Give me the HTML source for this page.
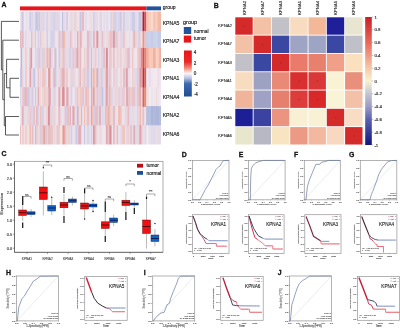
<!DOCTYPE html>
<html><head><meta charset="utf-8"><style>
html,body{margin:0;padding:0;background:#fff;}
body{width:400px;height:329px;overflow:hidden;}
svg{display:block;font-family:"Liberation Sans", sans-serif;will-change:transform;filter:blur(0.3px);}
</style></head><body>
<svg width="400" height="329" viewBox="0 0 400 329">
<rect x="0" y="0" width="400" height="329" fill="#fff"/>
<text x="1.50" y="7.30" font-size="6.9" text-anchor="start" font-weight="bold" fill="#111" stroke="#111" stroke-width="0.28">A</text>
<rect x="20.00" y="6.40" width="126.40" height="3.90" fill="#e8161c"/>
<rect x="146.40" y="6.40" width="14.60" height="3.90" fill="#22549e"/>
<text x="162.70" y="9.40" font-size="5.0" text-anchor="start" fill="#222" stroke="#222" stroke-width="0.150">group</text>
<defs><clipPath id="hmclip"><rect x="20.00" y="11.40" width="141.00" height="133.20"/></clipPath><filter id="hb" x="-0.02" y="0" width="1.04" height="1"><feGaussianBlur stdDeviation="0.3 0.2"/></filter></defs>
<g clip-path="url(#hmclip)"><g filter="url(#hb)">
<rect x="19.70" y="10.90" width="1.90" height="20.90" fill="#efe3e9"/>
<rect x="19.70" y="30.80" width="1.90" height="18.00" fill="#e5bac2"/>
<rect x="19.70" y="47.80" width="1.90" height="21.30" fill="#e3dceb"/>
<rect x="19.70" y="68.10" width="1.90" height="20.00" fill="#cbcae6"/>
<rect x="19.70" y="87.10" width="1.90" height="19.90" fill="#dcd7e9"/>
<rect x="19.70" y="106.00" width="1.90" height="20.20" fill="#efe5ed"/>
<rect x="19.70" y="125.20" width="1.90" height="19.90" fill="#e7c2ca"/>
<rect x="21.00" y="10.90" width="1.70" height="20.90" fill="#dbd6e9"/>
<rect x="21.00" y="30.80" width="1.70" height="18.00" fill="#d1cfe7"/>
<rect x="21.00" y="47.80" width="1.70" height="21.30" fill="#b4b8e0"/>
<rect x="21.00" y="68.10" width="1.70" height="20.00" fill="#c4c4e4"/>
<rect x="21.00" y="87.10" width="1.70" height="19.90" fill="#e8e1ec"/>
<rect x="21.00" y="106.00" width="1.70" height="20.20" fill="#efd7d7"/>
<rect x="21.00" y="125.20" width="1.70" height="19.90" fill="#efe4ec"/>
<rect x="22.10" y="10.90" width="2.10" height="20.90" fill="#c8c8e5"/>
<rect x="22.10" y="30.80" width="2.10" height="18.00" fill="#e4b6be"/>
<rect x="22.10" y="47.80" width="2.10" height="21.30" fill="#e6dfec"/>
<rect x="22.10" y="68.10" width="2.10" height="20.00" fill="#ebd5dd"/>
<rect x="22.10" y="87.10" width="2.10" height="19.90" fill="#e8c8d0"/>
<rect x="22.10" y="106.00" width="2.10" height="20.20" fill="#e2adb5"/>
<rect x="22.10" y="125.20" width="2.10" height="19.90" fill="#efccc7"/>
<rect x="23.60" y="10.90" width="2.50" height="20.90" fill="#efe6ee"/>
<rect x="23.60" y="30.80" width="2.50" height="18.00" fill="#ebe3ed"/>
<rect x="23.60" y="47.80" width="2.50" height="21.30" fill="#eee3eb"/>
<rect x="23.60" y="68.10" width="2.50" height="20.00" fill="#ebe3ed"/>
<rect x="23.60" y="87.10" width="2.50" height="19.90" fill="#e7c0c8"/>
<rect x="23.60" y="106.00" width="2.50" height="20.20" fill="#e4deeb"/>
<rect x="23.60" y="125.20" width="2.50" height="19.90" fill="#efdfe3"/>
<rect x="25.50" y="10.90" width="1.50" height="20.90" fill="#eee2ea"/>
<rect x="25.50" y="30.80" width="1.50" height="18.00" fill="#d3d0e7"/>
<rect x="25.50" y="47.80" width="1.50" height="21.30" fill="#f0bcae"/>
<rect x="25.50" y="68.10" width="1.50" height="20.00" fill="#f0baac"/>
<rect x="25.50" y="87.10" width="1.50" height="19.90" fill="#e2aab2"/>
<rect x="25.50" y="106.00" width="1.50" height="20.20" fill="#efdadc"/>
<rect x="25.50" y="125.20" width="1.50" height="19.90" fill="#f0c4bb"/>
<rect x="26.40" y="10.90" width="1.50" height="20.90" fill="#e4ddeb"/>
<rect x="26.40" y="30.80" width="1.50" height="18.00" fill="#ece4ed"/>
<rect x="26.40" y="47.80" width="1.50" height="21.30" fill="#eddee6"/>
<rect x="26.40" y="68.10" width="1.50" height="20.00" fill="#eddbe3"/>
<rect x="26.40" y="87.10" width="1.50" height="19.90" fill="#e8c9d1"/>
<rect x="26.40" y="106.00" width="1.50" height="20.20" fill="#e7dfec"/>
<rect x="26.40" y="125.20" width="1.50" height="19.90" fill="#efd7d7"/>
<rect x="27.30" y="10.90" width="2.80" height="20.90" fill="#ebe3ed"/>
<rect x="27.30" y="30.80" width="2.80" height="18.00" fill="#eee0e8"/>
<rect x="27.30" y="47.80" width="2.80" height="21.30" fill="#ebe3ed"/>
<rect x="27.30" y="68.10" width="2.80" height="20.00" fill="#efe3e9"/>
<rect x="27.30" y="87.10" width="2.80" height="19.90" fill="#cac9e5"/>
<rect x="27.30" y="106.00" width="2.80" height="20.20" fill="#ebd3db"/>
<rect x="27.30" y="125.20" width="2.80" height="19.90" fill="#efe0e5"/>
<rect x="29.50" y="10.90" width="2.30" height="20.90" fill="#cccbe6"/>
<rect x="29.50" y="30.80" width="2.30" height="18.00" fill="#eee3eb"/>
<rect x="29.50" y="47.80" width="2.30" height="21.30" fill="#e4b5bd"/>
<rect x="29.50" y="68.10" width="2.30" height="20.00" fill="#e0a4ac"/>
<rect x="29.50" y="87.10" width="2.30" height="19.90" fill="#ecd8e0"/>
<rect x="29.50" y="106.00" width="2.30" height="20.20" fill="#e9cad2"/>
<rect x="29.50" y="125.20" width="2.30" height="19.90" fill="#f0bcaf"/>
<rect x="31.20" y="10.90" width="1.50" height="20.90" fill="#e1dbeb"/>
<rect x="31.20" y="30.80" width="1.50" height="18.00" fill="#e4b6be"/>
<rect x="31.20" y="47.80" width="1.50" height="21.30" fill="#db8e96"/>
<rect x="31.20" y="68.10" width="1.50" height="20.00" fill="#ecd9e1"/>
<rect x="31.20" y="87.10" width="1.50" height="19.90" fill="#efcbc6"/>
<rect x="31.20" y="106.00" width="1.50" height="20.20" fill="#efcdc7"/>
<rect x="31.20" y="125.20" width="1.50" height="19.90" fill="#e2dceb"/>
<rect x="32.10" y="10.90" width="1.90" height="20.90" fill="#dcd7e9"/>
<rect x="32.10" y="30.80" width="1.90" height="18.00" fill="#ebd4dc"/>
<rect x="32.10" y="47.80" width="1.90" height="21.30" fill="#ebe3ed"/>
<rect x="32.10" y="68.10" width="1.90" height="20.00" fill="#e0daea"/>
<rect x="32.10" y="87.10" width="1.90" height="19.90" fill="#cfcde7"/>
<rect x="32.10" y="106.00" width="1.90" height="20.20" fill="#dbd6e9"/>
<rect x="32.10" y="125.20" width="1.90" height="19.90" fill="#e5bac2"/>
<rect x="33.40" y="10.90" width="2.30" height="20.90" fill="#e8e1ec"/>
<rect x="33.40" y="30.80" width="2.30" height="18.00" fill="#efdce0"/>
<rect x="33.40" y="47.80" width="2.30" height="21.30" fill="#eee5ee"/>
<rect x="33.40" y="68.10" width="2.30" height="20.00" fill="#c6c6e4"/>
<rect x="33.40" y="87.10" width="2.30" height="19.90" fill="#eee3eb"/>
<rect x="33.40" y="106.00" width="2.30" height="20.20" fill="#e6bfc7"/>
<rect x="33.40" y="125.20" width="2.30" height="19.90" fill="#eae2ed"/>
<rect x="35.10" y="10.90" width="1.50" height="20.90" fill="#cbcae5"/>
<rect x="35.10" y="30.80" width="1.50" height="18.00" fill="#cccbe6"/>
<rect x="35.10" y="47.80" width="1.50" height="21.30" fill="#efd1cf"/>
<rect x="35.10" y="68.10" width="1.50" height="20.00" fill="#efd9db"/>
<rect x="35.10" y="87.10" width="1.50" height="19.90" fill="#e6bcc4"/>
<rect x="35.10" y="106.00" width="1.50" height="20.20" fill="#efe1e7"/>
<rect x="35.10" y="125.20" width="1.50" height="19.90" fill="#e3b2ba"/>
<rect x="36.00" y="10.90" width="2.30" height="20.90" fill="#c4c5e4"/>
<rect x="36.00" y="30.80" width="2.30" height="18.00" fill="#ece4ed"/>
<rect x="36.00" y="47.80" width="2.30" height="21.30" fill="#dcd7ea"/>
<rect x="36.00" y="68.10" width="2.30" height="20.00" fill="#efe6ed"/>
<rect x="36.00" y="87.10" width="2.30" height="19.90" fill="#e8e1ec"/>
<rect x="36.00" y="106.00" width="2.30" height="20.20" fill="#e6bcc4"/>
<rect x="36.00" y="125.20" width="2.30" height="19.90" fill="#e9cdd5"/>
<rect x="37.70" y="10.90" width="1.70" height="20.90" fill="#d7d3e8"/>
<rect x="37.70" y="30.80" width="1.70" height="18.00" fill="#cecde6"/>
<rect x="37.70" y="47.80" width="1.70" height="21.30" fill="#e9ccd4"/>
<rect x="37.70" y="68.10" width="1.70" height="20.00" fill="#e5bbc3"/>
<rect x="37.70" y="87.10" width="1.70" height="19.90" fill="#e1a6ae"/>
<rect x="37.70" y="106.00" width="1.70" height="20.20" fill="#d5d2e8"/>
<rect x="37.70" y="125.20" width="1.70" height="19.90" fill="#ecd9e1"/>
<rect x="38.80" y="10.90" width="1.50" height="20.90" fill="#c1c2e3"/>
<rect x="38.80" y="30.80" width="1.50" height="18.00" fill="#ebe3ed"/>
<rect x="38.80" y="47.80" width="1.50" height="21.30" fill="#c7c7e5"/>
<rect x="38.80" y="68.10" width="1.50" height="20.00" fill="#eee4ec"/>
<rect x="38.80" y="87.10" width="1.50" height="19.90" fill="#ecd8e0"/>
<rect x="38.80" y="106.00" width="1.50" height="20.20" fill="#efe5ed"/>
<rect x="38.80" y="125.20" width="1.50" height="19.90" fill="#efdee1"/>
<rect x="39.70" y="10.90" width="1.50" height="20.90" fill="#e2dceb"/>
<rect x="39.70" y="30.80" width="1.50" height="18.00" fill="#e7c2ca"/>
<rect x="39.70" y="47.80" width="1.50" height="21.30" fill="#ebd5dd"/>
<rect x="39.70" y="68.10" width="1.50" height="20.00" fill="#e9ccd4"/>
<rect x="39.70" y="87.10" width="1.50" height="19.90" fill="#efcfcb"/>
<rect x="39.70" y="106.00" width="1.50" height="20.20" fill="#f0beb1"/>
<rect x="39.70" y="125.20" width="1.50" height="19.90" fill="#cfcde6"/>
<rect x="40.60" y="10.90" width="2.10" height="20.90" fill="#efd2cf"/>
<rect x="40.60" y="30.80" width="2.10" height="18.00" fill="#ebd6de"/>
<rect x="40.60" y="47.80" width="2.10" height="21.30" fill="#ddd8ea"/>
<rect x="40.60" y="68.10" width="2.10" height="20.00" fill="#e9e2ed"/>
<rect x="40.60" y="87.10" width="2.10" height="19.90" fill="#ede4ed"/>
<rect x="40.60" y="106.00" width="2.10" height="20.20" fill="#e9cbd3"/>
<rect x="40.60" y="125.20" width="2.10" height="19.90" fill="#e8c6ce"/>
<rect x="42.10" y="10.90" width="2.10" height="20.90" fill="#dfd9ea"/>
<rect x="42.10" y="30.80" width="2.10" height="18.00" fill="#efdbdd"/>
<rect x="42.10" y="47.80" width="2.10" height="21.30" fill="#d5d2e8"/>
<rect x="42.10" y="68.10" width="2.10" height="20.00" fill="#f0c3ba"/>
<rect x="42.10" y="87.10" width="2.10" height="19.90" fill="#efd2d0"/>
<rect x="42.10" y="106.00" width="2.10" height="20.20" fill="#d4d1e7"/>
<rect x="42.10" y="125.20" width="2.10" height="19.90" fill="#f0c7bf"/>
<rect x="43.60" y="10.90" width="1.50" height="20.90" fill="#d3d0e7"/>
<rect x="43.60" y="30.80" width="1.50" height="18.00" fill="#efdadb"/>
<rect x="43.60" y="47.80" width="1.50" height="21.30" fill="#efcfcb"/>
<rect x="43.60" y="68.10" width="1.50" height="20.00" fill="#e8c8d0"/>
<rect x="43.60" y="87.10" width="1.50" height="19.90" fill="#efd5d4"/>
<rect x="43.60" y="106.00" width="1.50" height="20.20" fill="#ecd7df"/>
<rect x="43.60" y="125.20" width="1.50" height="19.90" fill="#da8991"/>
<rect x="44.50" y="10.90" width="1.70" height="20.90" fill="#eee3eb"/>
<rect x="44.50" y="30.80" width="1.70" height="18.00" fill="#ede5ee"/>
<rect x="44.50" y="47.80" width="1.70" height="21.30" fill="#efcbc5"/>
<rect x="44.50" y="68.10" width="1.70" height="20.00" fill="#efc9c1"/>
<rect x="44.50" y="87.10" width="1.70" height="19.90" fill="#efc8c0"/>
<rect x="44.50" y="106.00" width="1.70" height="20.20" fill="#efe5ed"/>
<rect x="44.50" y="125.20" width="1.70" height="19.90" fill="#f0c5bc"/>
<rect x="45.60" y="10.90" width="1.50" height="20.90" fill="#dfdaea"/>
<rect x="45.60" y="30.80" width="1.50" height="18.00" fill="#efdee2"/>
<rect x="45.60" y="47.80" width="1.50" height="21.30" fill="#ede5ee"/>
<rect x="45.60" y="68.10" width="1.50" height="20.00" fill="#dcd7ea"/>
<rect x="45.60" y="87.10" width="1.50" height="19.90" fill="#ecd7df"/>
<rect x="45.60" y="106.00" width="1.50" height="20.20" fill="#ebd6de"/>
<rect x="45.60" y="125.20" width="1.50" height="19.90" fill="#cac9e5"/>
<rect x="46.50" y="10.90" width="2.30" height="20.90" fill="#d7d3e8"/>
<rect x="46.50" y="30.80" width="2.30" height="18.00" fill="#d2cfe7"/>
<rect x="46.50" y="47.80" width="2.30" height="21.30" fill="#e4b6be"/>
<rect x="46.50" y="68.10" width="2.30" height="20.00" fill="#efe4eb"/>
<rect x="46.50" y="87.10" width="2.30" height="19.90" fill="#efd1cf"/>
<rect x="46.50" y="106.00" width="2.30" height="20.20" fill="#efd1ce"/>
<rect x="46.50" y="125.20" width="2.30" height="19.90" fill="#efcdc9"/>
<rect x="48.20" y="10.90" width="2.10" height="20.90" fill="#efdde0"/>
<rect x="48.20" y="30.80" width="2.10" height="18.00" fill="#ede5ee"/>
<rect x="48.20" y="47.80" width="2.10" height="21.30" fill="#efc9c2"/>
<rect x="48.20" y="68.10" width="2.10" height="20.00" fill="#dc939b"/>
<rect x="48.20" y="87.10" width="2.10" height="19.90" fill="#e2acb4"/>
<rect x="48.20" y="106.00" width="2.10" height="20.20" fill="#d88088"/>
<rect x="48.20" y="125.20" width="2.10" height="19.90" fill="#e5b9c1"/>
<rect x="49.70" y="10.90" width="1.50" height="20.90" fill="#e2dceb"/>
<rect x="49.70" y="30.80" width="1.50" height="18.00" fill="#e0dbeb"/>
<rect x="49.70" y="47.80" width="1.50" height="21.30" fill="#dd979f"/>
<rect x="49.70" y="68.10" width="1.50" height="20.00" fill="#f0a992"/>
<rect x="49.70" y="87.10" width="1.50" height="19.90" fill="#db8f97"/>
<rect x="49.70" y="106.00" width="1.50" height="20.20" fill="#e9ccd4"/>
<rect x="49.70" y="125.20" width="1.50" height="19.90" fill="#f0c3b9"/>
<rect x="50.60" y="10.90" width="2.80" height="20.90" fill="#ded8ea"/>
<rect x="50.60" y="30.80" width="2.80" height="18.00" fill="#d4d1e8"/>
<rect x="50.60" y="47.80" width="2.80" height="21.30" fill="#ded9ea"/>
<rect x="50.60" y="68.10" width="2.80" height="20.00" fill="#efe4eb"/>
<rect x="50.60" y="87.10" width="2.80" height="19.90" fill="#e7e0ec"/>
<rect x="50.60" y="106.00" width="2.80" height="20.20" fill="#dbd6e9"/>
<rect x="50.60" y="125.20" width="2.80" height="19.90" fill="#e7c2ca"/>
<rect x="52.80" y="10.90" width="2.30" height="20.90" fill="#d9d5e9"/>
<rect x="52.80" y="30.80" width="2.30" height="18.00" fill="#d6d2e8"/>
<rect x="52.80" y="47.80" width="2.30" height="21.30" fill="#eae2ed"/>
<rect x="52.80" y="68.10" width="2.30" height="20.00" fill="#cecce6"/>
<rect x="52.80" y="87.10" width="2.30" height="19.90" fill="#ddd8ea"/>
<rect x="52.80" y="106.00" width="2.30" height="20.20" fill="#efd7d7"/>
<rect x="52.80" y="125.20" width="2.30" height="19.90" fill="#ecd9e1"/>
<rect x="54.50" y="10.90" width="1.50" height="20.90" fill="#d0cee7"/>
<rect x="54.50" y="30.80" width="1.50" height="18.00" fill="#ecd8e0"/>
<rect x="54.50" y="47.80" width="1.50" height="21.30" fill="#e4b6be"/>
<rect x="54.50" y="68.10" width="1.50" height="20.00" fill="#e2aeb6"/>
<rect x="54.50" y="87.10" width="1.50" height="19.90" fill="#e8c6ce"/>
<rect x="54.50" y="106.00" width="1.50" height="20.20" fill="#efceca"/>
<rect x="54.50" y="125.20" width="1.50" height="19.90" fill="#efcfcb"/>
<rect x="55.40" y="10.90" width="1.70" height="20.90" fill="#efdadc"/>
<rect x="55.40" y="30.80" width="1.70" height="18.00" fill="#eee4ec"/>
<rect x="55.40" y="47.80" width="1.70" height="21.30" fill="#c4c5e4"/>
<rect x="55.40" y="68.10" width="1.70" height="20.00" fill="#d6d2e8"/>
<rect x="55.40" y="87.10" width="1.70" height="19.90" fill="#eee0e8"/>
<rect x="55.40" y="106.00" width="1.70" height="20.20" fill="#efdfe3"/>
<rect x="55.40" y="125.20" width="1.70" height="19.90" fill="#ede4ee"/>
<rect x="56.50" y="10.90" width="2.50" height="20.90" fill="#dad5e9"/>
<rect x="56.50" y="30.80" width="2.50" height="18.00" fill="#ebe3ed"/>
<rect x="56.50" y="47.80" width="2.50" height="21.30" fill="#efe6ee"/>
<rect x="56.50" y="68.10" width="2.50" height="20.00" fill="#e6dfec"/>
<rect x="56.50" y="87.10" width="2.50" height="19.90" fill="#ece4ed"/>
<rect x="56.50" y="106.00" width="2.50" height="20.20" fill="#efe4ea"/>
<rect x="56.50" y="125.20" width="2.50" height="19.90" fill="#e7c5cd"/>
<rect x="58.40" y="10.90" width="2.50" height="20.90" fill="#e1dbeb"/>
<rect x="58.40" y="30.80" width="2.50" height="18.00" fill="#e6c0c8"/>
<rect x="58.40" y="47.80" width="2.50" height="21.30" fill="#d0cde7"/>
<rect x="58.40" y="68.10" width="2.50" height="20.00" fill="#efd9db"/>
<rect x="58.40" y="87.10" width="2.50" height="19.90" fill="#e1a9b1"/>
<rect x="58.40" y="106.00" width="2.50" height="20.20" fill="#e5bac2"/>
<rect x="58.40" y="125.20" width="2.50" height="19.90" fill="#efcdc8"/>
<rect x="60.30" y="10.90" width="2.30" height="20.90" fill="#efe5ec"/>
<rect x="60.30" y="30.80" width="2.30" height="18.00" fill="#d7d3e8"/>
<rect x="60.30" y="47.80" width="2.30" height="21.30" fill="#efd8d9"/>
<rect x="60.30" y="68.10" width="2.30" height="20.00" fill="#e8c7cf"/>
<rect x="60.30" y="87.10" width="2.30" height="19.90" fill="#efdcdf"/>
<rect x="60.30" y="106.00" width="2.30" height="20.20" fill="#eddce4"/>
<rect x="60.30" y="125.20" width="2.30" height="19.90" fill="#efe5ec"/>
<rect x="62.00" y="10.90" width="1.50" height="20.90" fill="#bec0e2"/>
<rect x="62.00" y="30.80" width="1.50" height="18.00" fill="#e5bbc3"/>
<rect x="62.00" y="47.80" width="1.50" height="21.30" fill="#efcdc8"/>
<rect x="62.00" y="68.10" width="1.50" height="20.00" fill="#e4b7bf"/>
<rect x="62.00" y="87.10" width="1.50" height="19.90" fill="#dd959d"/>
<rect x="62.00" y="106.00" width="1.50" height="20.20" fill="#efe4eb"/>
<rect x="62.00" y="125.20" width="1.50" height="19.90" fill="#f0bdaf"/>
<rect x="62.90" y="10.90" width="2.30" height="20.90" fill="#dfd9ea"/>
<rect x="62.90" y="30.80" width="2.30" height="18.00" fill="#f0b5a4"/>
<rect x="62.90" y="47.80" width="2.30" height="21.30" fill="#e7c1c9"/>
<rect x="62.90" y="68.10" width="2.30" height="20.00" fill="#e3afb7"/>
<rect x="62.90" y="87.10" width="2.30" height="19.90" fill="#db8d95"/>
<rect x="62.90" y="106.00" width="2.30" height="20.20" fill="#eddee6"/>
<rect x="62.90" y="125.20" width="2.30" height="19.90" fill="#de9aa2"/>
<rect x="64.60" y="10.90" width="2.30" height="20.90" fill="#eedfe7"/>
<rect x="64.60" y="30.80" width="2.30" height="18.00" fill="#efd2d0"/>
<rect x="64.60" y="47.80" width="2.30" height="21.30" fill="#ddd8ea"/>
<rect x="64.60" y="68.10" width="2.30" height="20.00" fill="#ebd5dd"/>
<rect x="64.60" y="87.10" width="2.30" height="19.90" fill="#eee2ea"/>
<rect x="64.60" y="106.00" width="2.30" height="20.20" fill="#e7c4cc"/>
<rect x="64.60" y="125.20" width="2.30" height="19.90" fill="#f0c2b7"/>
<rect x="66.30" y="10.90" width="2.10" height="20.90" fill="#cccbe6"/>
<rect x="66.30" y="30.80" width="2.10" height="18.00" fill="#e7e0ec"/>
<rect x="66.30" y="47.80" width="2.10" height="21.30" fill="#ecd7df"/>
<rect x="66.30" y="68.10" width="2.10" height="20.00" fill="#f0c7bf"/>
<rect x="66.30" y="87.10" width="2.10" height="19.90" fill="#dfa1a9"/>
<rect x="66.30" y="106.00" width="2.10" height="20.20" fill="#d1cee7"/>
<rect x="66.30" y="125.20" width="2.10" height="19.90" fill="#ebd6de"/>
<rect x="67.80" y="10.90" width="1.50" height="20.90" fill="#ede4ed"/>
<rect x="67.80" y="30.80" width="1.50" height="18.00" fill="#dbd6e9"/>
<rect x="67.80" y="47.80" width="1.50" height="21.30" fill="#eddfe7"/>
<rect x="67.80" y="68.10" width="1.50" height="20.00" fill="#eee0e8"/>
<rect x="67.80" y="87.10" width="1.50" height="19.90" fill="#e5b9c1"/>
<rect x="67.80" y="106.00" width="1.50" height="20.20" fill="#e4b3bb"/>
<rect x="67.80" y="125.20" width="1.50" height="19.90" fill="#efd2cf"/>
<rect x="68.70" y="10.90" width="1.70" height="20.90" fill="#eae2ed"/>
<rect x="68.70" y="30.80" width="1.70" height="18.00" fill="#ece4ed"/>
<rect x="68.70" y="47.80" width="1.70" height="21.30" fill="#d5d1e8"/>
<rect x="68.70" y="68.10" width="1.70" height="20.00" fill="#ece4ed"/>
<rect x="68.70" y="87.10" width="1.70" height="19.90" fill="#e6dfec"/>
<rect x="68.70" y="106.00" width="1.70" height="20.20" fill="#ebd5dd"/>
<rect x="68.70" y="125.20" width="1.70" height="19.90" fill="#e9cdd5"/>
<rect x="69.80" y="10.90" width="1.50" height="20.90" fill="#e8e0ec"/>
<rect x="69.80" y="30.80" width="1.50" height="18.00" fill="#e5b8c0"/>
<rect x="69.80" y="47.80" width="1.50" height="21.30" fill="#d4d1e8"/>
<rect x="69.80" y="68.10" width="1.50" height="20.00" fill="#eddce4"/>
<rect x="69.80" y="87.10" width="1.50" height="19.90" fill="#ecdae2"/>
<rect x="69.80" y="106.00" width="1.50" height="20.20" fill="#de99a1"/>
<rect x="69.80" y="125.20" width="1.50" height="19.90" fill="#e8e0ec"/>
<rect x="70.70" y="10.90" width="2.30" height="20.90" fill="#efd6d6"/>
<rect x="70.70" y="30.80" width="2.30" height="18.00" fill="#eaced6"/>
<rect x="70.70" y="47.80" width="2.30" height="21.30" fill="#ddd8ea"/>
<rect x="70.70" y="68.10" width="2.30" height="20.00" fill="#dad6e9"/>
<rect x="70.70" y="87.10" width="2.30" height="19.90" fill="#d7d3e8"/>
<rect x="70.70" y="106.00" width="2.30" height="20.20" fill="#ece3ed"/>
<rect x="70.70" y="125.20" width="2.30" height="19.90" fill="#d1cfe7"/>
<rect x="72.40" y="10.90" width="2.80" height="20.90" fill="#efdcdf"/>
<rect x="72.40" y="30.80" width="2.80" height="18.00" fill="#eee2ea"/>
<rect x="72.40" y="47.80" width="2.80" height="21.30" fill="#e8c7cf"/>
<rect x="72.40" y="68.10" width="2.80" height="20.00" fill="#efd3d1"/>
<rect x="72.40" y="87.10" width="2.80" height="19.90" fill="#efe6ee"/>
<rect x="72.40" y="106.00" width="2.80" height="20.20" fill="#e0a5ad"/>
<rect x="72.40" y="125.20" width="2.80" height="19.90" fill="#efe4eb"/>
<rect x="74.60" y="10.90" width="1.70" height="20.90" fill="#d5d2e8"/>
<rect x="74.60" y="30.80" width="1.70" height="18.00" fill="#ebd4dc"/>
<rect x="74.60" y="47.80" width="1.70" height="21.30" fill="#e1dbeb"/>
<rect x="74.60" y="68.10" width="1.70" height="20.00" fill="#e4deeb"/>
<rect x="74.60" y="87.10" width="1.70" height="19.90" fill="#ded9ea"/>
<rect x="74.60" y="106.00" width="1.70" height="20.20" fill="#eee1e9"/>
<rect x="74.60" y="125.20" width="1.70" height="19.90" fill="#ddd8ea"/>
<rect x="75.70" y="10.90" width="1.90" height="20.90" fill="#efdbdd"/>
<rect x="75.70" y="30.80" width="1.90" height="18.00" fill="#efe3e9"/>
<rect x="75.70" y="47.80" width="1.90" height="21.30" fill="#e4b7bf"/>
<rect x="75.70" y="68.10" width="1.90" height="20.00" fill="#efe4eb"/>
<rect x="75.70" y="87.10" width="1.90" height="19.90" fill="#ead1d9"/>
<rect x="75.70" y="106.00" width="1.90" height="20.20" fill="#ddd8ea"/>
<rect x="75.70" y="125.20" width="1.90" height="19.90" fill="#cccbe6"/>
<rect x="77.00" y="10.90" width="2.10" height="20.90" fill="#efe1e6"/>
<rect x="77.00" y="30.80" width="2.10" height="18.00" fill="#e3afb7"/>
<rect x="77.00" y="47.80" width="2.10" height="21.30" fill="#e1a8b0"/>
<rect x="77.00" y="68.10" width="2.10" height="20.00" fill="#eddfe7"/>
<rect x="77.00" y="87.10" width="2.10" height="19.90" fill="#f0c5bc"/>
<rect x="77.00" y="106.00" width="2.10" height="20.20" fill="#e3afb7"/>
<rect x="77.00" y="125.20" width="2.10" height="19.90" fill="#e9cbd3"/>
<rect x="78.50" y="10.90" width="1.70" height="20.90" fill="#e9e2ed"/>
<rect x="78.50" y="30.80" width="1.70" height="18.00" fill="#efe6ee"/>
<rect x="78.50" y="47.80" width="1.70" height="21.30" fill="#eddce4"/>
<rect x="78.50" y="68.10" width="1.70" height="20.00" fill="#ead0d8"/>
<rect x="78.50" y="87.10" width="1.70" height="19.90" fill="#efdfe3"/>
<rect x="78.50" y="106.00" width="1.70" height="20.20" fill="#dfdaea"/>
<rect x="78.50" y="125.20" width="1.70" height="19.90" fill="#e2abb3"/>
<rect x="79.60" y="10.90" width="2.30" height="20.90" fill="#c7c7e4"/>
<rect x="79.60" y="30.80" width="2.30" height="18.00" fill="#e3b1b9"/>
<rect x="79.60" y="47.80" width="2.30" height="21.30" fill="#e5bac2"/>
<rect x="79.60" y="68.10" width="2.30" height="20.00" fill="#e6bcc4"/>
<rect x="79.60" y="87.10" width="2.30" height="19.90" fill="#efc8c1"/>
<rect x="79.60" y="106.00" width="2.30" height="20.20" fill="#efdadc"/>
<rect x="79.60" y="125.20" width="2.30" height="19.90" fill="#e3b0b8"/>
<rect x="81.30" y="10.90" width="1.50" height="20.90" fill="#dcd7e9"/>
<rect x="81.30" y="30.80" width="1.50" height="18.00" fill="#f0c6be"/>
<rect x="81.30" y="47.80" width="1.50" height="21.30" fill="#eee6ee"/>
<rect x="81.30" y="68.10" width="1.50" height="20.00" fill="#efe5ed"/>
<rect x="81.30" y="87.10" width="1.50" height="19.90" fill="#e9cad2"/>
<rect x="81.30" y="106.00" width="1.50" height="20.20" fill="#e0a5ad"/>
<rect x="81.30" y="125.20" width="1.50" height="19.90" fill="#e8e1ec"/>
<rect x="82.20" y="10.90" width="2.30" height="20.90" fill="#e4b5bd"/>
<rect x="82.20" y="30.80" width="2.30" height="18.00" fill="#efe0e5"/>
<rect x="82.20" y="47.80" width="2.30" height="21.30" fill="#ede4ed"/>
<rect x="82.20" y="68.10" width="2.30" height="20.00" fill="#efd3d1"/>
<rect x="82.20" y="87.10" width="2.30" height="19.90" fill="#e7c3cb"/>
<rect x="82.20" y="106.00" width="2.30" height="20.20" fill="#eee5ee"/>
<rect x="82.20" y="125.20" width="2.30" height="19.90" fill="#eee5ee"/>
<rect x="83.90" y="10.90" width="1.90" height="20.90" fill="#efe3e9"/>
<rect x="83.90" y="30.80" width="1.90" height="18.00" fill="#efe3e9"/>
<rect x="83.90" y="47.80" width="1.90" height="21.30" fill="#efd2cf"/>
<rect x="83.90" y="68.10" width="1.90" height="20.00" fill="#e8c7cf"/>
<rect x="83.90" y="87.10" width="1.90" height="19.90" fill="#ecd9e1"/>
<rect x="83.90" y="106.00" width="1.90" height="20.20" fill="#f0c1b6"/>
<rect x="83.90" y="125.20" width="1.90" height="19.90" fill="#c9c8e5"/>
<rect x="85.20" y="10.90" width="2.30" height="20.90" fill="#e0dbeb"/>
<rect x="85.20" y="30.80" width="2.30" height="18.00" fill="#eae2ed"/>
<rect x="85.20" y="47.80" width="2.30" height="21.30" fill="#ebd6de"/>
<rect x="85.20" y="68.10" width="2.30" height="20.00" fill="#ead2da"/>
<rect x="85.20" y="87.10" width="2.30" height="19.90" fill="#e6bec6"/>
<rect x="85.20" y="106.00" width="2.30" height="20.20" fill="#efdadb"/>
<rect x="85.20" y="125.20" width="2.30" height="19.90" fill="#eee1e9"/>
<rect x="86.90" y="10.90" width="2.80" height="20.90" fill="#efe5ed"/>
<rect x="86.90" y="30.80" width="2.80" height="18.00" fill="#e6bdc5"/>
<rect x="86.90" y="47.80" width="2.80" height="21.30" fill="#e6bec6"/>
<rect x="86.90" y="68.10" width="2.80" height="20.00" fill="#cdcbe6"/>
<rect x="86.90" y="87.10" width="2.80" height="19.90" fill="#f0c6be"/>
<rect x="86.90" y="106.00" width="2.80" height="20.20" fill="#e6bfc7"/>
<rect x="86.90" y="125.20" width="2.80" height="19.90" fill="#d9d5e9"/>
<rect x="89.10" y="10.90" width="2.50" height="20.90" fill="#efdee2"/>
<rect x="89.10" y="30.80" width="2.50" height="18.00" fill="#d7d3e8"/>
<rect x="89.10" y="47.80" width="2.50" height="21.30" fill="#e2dceb"/>
<rect x="89.10" y="68.10" width="2.50" height="20.00" fill="#e1dbeb"/>
<rect x="89.10" y="87.10" width="2.50" height="19.90" fill="#eae2ed"/>
<rect x="89.10" y="106.00" width="2.50" height="20.20" fill="#ecd7df"/>
<rect x="89.10" y="125.20" width="2.50" height="19.90" fill="#e6dfec"/>
<rect x="91.00" y="10.90" width="1.70" height="20.90" fill="#eddbe3"/>
<rect x="91.00" y="30.80" width="1.70" height="18.00" fill="#efd4d3"/>
<rect x="91.00" y="47.80" width="1.70" height="21.30" fill="#f0b9aa"/>
<rect x="91.00" y="68.10" width="1.70" height="20.00" fill="#e1a9b1"/>
<rect x="91.00" y="87.10" width="1.70" height="19.90" fill="#f0ad98"/>
<rect x="91.00" y="106.00" width="1.70" height="20.20" fill="#e1a8b0"/>
<rect x="91.00" y="125.20" width="1.70" height="19.90" fill="#efcbc5"/>
<rect x="92.10" y="10.90" width="1.50" height="20.90" fill="#ece3ed"/>
<rect x="92.10" y="30.80" width="1.50" height="18.00" fill="#e7e0ec"/>
<rect x="92.10" y="47.80" width="1.50" height="21.30" fill="#e7e0ec"/>
<rect x="92.10" y="68.10" width="1.50" height="20.00" fill="#efd5d4"/>
<rect x="92.10" y="87.10" width="1.50" height="19.90" fill="#e8c6ce"/>
<rect x="92.10" y="106.00" width="1.50" height="20.20" fill="#f0beb1"/>
<rect x="92.10" y="125.20" width="1.50" height="19.90" fill="#e6dfec"/>
<rect x="93.00" y="10.90" width="2.30" height="20.90" fill="#d5d2e8"/>
<rect x="93.00" y="30.80" width="2.30" height="18.00" fill="#e4b5bd"/>
<rect x="93.00" y="47.80" width="2.30" height="21.30" fill="#efdbdd"/>
<rect x="93.00" y="68.10" width="2.30" height="20.00" fill="#f0b9aa"/>
<rect x="93.00" y="87.10" width="2.30" height="19.90" fill="#e0a5ad"/>
<rect x="93.00" y="106.00" width="2.30" height="20.20" fill="#d3d0e7"/>
<rect x="93.00" y="125.20" width="2.30" height="19.90" fill="#de99a1"/>
<rect x="94.70" y="10.90" width="2.30" height="20.90" fill="#ecd8e0"/>
<rect x="94.70" y="30.80" width="2.30" height="18.00" fill="#ecd8e0"/>
<rect x="94.70" y="47.80" width="2.30" height="21.30" fill="#e9cdd5"/>
<rect x="94.70" y="68.10" width="2.30" height="20.00" fill="#ebd3db"/>
<rect x="94.70" y="87.10" width="2.30" height="19.90" fill="#ebd5dd"/>
<rect x="94.70" y="106.00" width="2.30" height="20.20" fill="#e6bec6"/>
<rect x="94.70" y="125.20" width="2.30" height="19.90" fill="#e7c1c9"/>
<rect x="96.40" y="10.90" width="2.50" height="20.90" fill="#e3ddeb"/>
<rect x="96.40" y="30.80" width="2.50" height="18.00" fill="#dd969e"/>
<rect x="96.40" y="47.80" width="2.50" height="21.30" fill="#efdee2"/>
<rect x="96.40" y="68.10" width="2.50" height="20.00" fill="#e2aeb6"/>
<rect x="96.40" y="87.10" width="2.50" height="19.90" fill="#e8c8d0"/>
<rect x="96.40" y="106.00" width="2.50" height="20.20" fill="#e6bfc7"/>
<rect x="96.40" y="125.20" width="2.50" height="19.90" fill="#efdee3"/>
<rect x="98.30" y="10.90" width="1.70" height="20.90" fill="#eee5ee"/>
<rect x="98.30" y="30.80" width="1.70" height="18.00" fill="#ecdae2"/>
<rect x="98.30" y="47.80" width="1.70" height="21.30" fill="#d0cee7"/>
<rect x="98.30" y="68.10" width="1.70" height="20.00" fill="#dcd7ea"/>
<rect x="98.30" y="87.10" width="1.70" height="19.90" fill="#dbd6e9"/>
<rect x="98.30" y="106.00" width="1.70" height="20.20" fill="#e2dceb"/>
<rect x="98.30" y="125.20" width="1.70" height="19.90" fill="#ece3ed"/>
<rect x="99.40" y="10.90" width="1.90" height="20.90" fill="#ecdae2"/>
<rect x="99.40" y="30.80" width="1.90" height="18.00" fill="#eddce4"/>
<rect x="99.40" y="47.80" width="1.90" height="21.30" fill="#ece4ed"/>
<rect x="99.40" y="68.10" width="1.90" height="20.00" fill="#e2dceb"/>
<rect x="99.40" y="87.10" width="1.90" height="19.90" fill="#e9cad2"/>
<rect x="99.40" y="106.00" width="1.90" height="20.20" fill="#de9ca4"/>
<rect x="99.40" y="125.20" width="1.90" height="19.90" fill="#efdadb"/>
<rect x="100.70" y="10.90" width="1.50" height="20.90" fill="#cccae6"/>
<rect x="100.70" y="30.80" width="1.50" height="18.00" fill="#e5deec"/>
<rect x="100.70" y="47.80" width="1.50" height="21.30" fill="#efd2d0"/>
<rect x="100.70" y="68.10" width="1.50" height="20.00" fill="#e6c0c8"/>
<rect x="100.70" y="87.10" width="1.50" height="19.90" fill="#ebd3db"/>
<rect x="100.70" y="106.00" width="1.50" height="20.20" fill="#e9e1ed"/>
<rect x="100.70" y="125.20" width="1.50" height="19.90" fill="#ecd7df"/>
<rect x="101.60" y="10.90" width="2.30" height="20.90" fill="#efe5ed"/>
<rect x="101.60" y="30.80" width="2.30" height="18.00" fill="#e6c0c8"/>
<rect x="101.60" y="47.80" width="2.30" height="21.30" fill="#dad5e9"/>
<rect x="101.60" y="68.10" width="2.30" height="20.00" fill="#d8d4e9"/>
<rect x="101.60" y="87.10" width="2.30" height="19.90" fill="#c0c2e3"/>
<rect x="101.60" y="106.00" width="2.30" height="20.20" fill="#dbd6e9"/>
<rect x="101.60" y="125.20" width="2.30" height="19.90" fill="#ede4ed"/>
<rect x="103.30" y="10.90" width="2.50" height="20.90" fill="#e3ddeb"/>
<rect x="103.30" y="30.80" width="2.50" height="18.00" fill="#e3ddeb"/>
<rect x="103.30" y="47.80" width="2.50" height="21.30" fill="#e6bec6"/>
<rect x="103.30" y="68.10" width="2.50" height="20.00" fill="#efd9da"/>
<rect x="103.30" y="87.10" width="2.50" height="19.90" fill="#e5deec"/>
<rect x="103.30" y="106.00" width="2.50" height="20.20" fill="#e2dceb"/>
<rect x="103.30" y="125.20" width="2.50" height="19.90" fill="#eee5ee"/>
<rect x="105.20" y="10.90" width="1.50" height="20.90" fill="#ede4ed"/>
<rect x="105.20" y="30.80" width="1.50" height="18.00" fill="#e8e1ec"/>
<rect x="105.20" y="47.80" width="1.50" height="21.30" fill="#ddd8ea"/>
<rect x="105.20" y="68.10" width="1.50" height="20.00" fill="#e7c1c9"/>
<rect x="105.20" y="87.10" width="1.50" height="19.90" fill="#e6c0c8"/>
<rect x="105.20" y="106.00" width="1.50" height="20.20" fill="#e4b5bd"/>
<rect x="105.20" y="125.20" width="1.50" height="19.90" fill="#e7e0ec"/>
<rect x="106.10" y="10.90" width="2.30" height="20.90" fill="#e1dbeb"/>
<rect x="106.10" y="30.80" width="2.30" height="18.00" fill="#efdadb"/>
<rect x="106.10" y="47.80" width="2.30" height="21.30" fill="#d9838b"/>
<rect x="106.10" y="68.10" width="2.30" height="20.00" fill="#dd979f"/>
<rect x="106.10" y="87.10" width="2.30" height="19.90" fill="#df9fa7"/>
<rect x="106.10" y="106.00" width="2.30" height="20.20" fill="#f0c2b8"/>
<rect x="106.10" y="125.20" width="2.30" height="19.90" fill="#e1a6ae"/>
<rect x="107.80" y="10.90" width="1.50" height="20.90" fill="#e7e0ec"/>
<rect x="107.80" y="30.80" width="1.50" height="18.00" fill="#efd5d4"/>
<rect x="107.80" y="47.80" width="1.50" height="21.30" fill="#efe6ee"/>
<rect x="107.80" y="68.10" width="1.50" height="20.00" fill="#e2dceb"/>
<rect x="107.80" y="87.10" width="1.50" height="19.90" fill="#e6dfec"/>
<rect x="107.80" y="106.00" width="1.50" height="20.20" fill="#e2aeb6"/>
<rect x="107.80" y="125.20" width="1.50" height="19.90" fill="#efd7d8"/>
<rect x="108.70" y="10.90" width="2.30" height="20.90" fill="#efe6ee"/>
<rect x="108.70" y="30.80" width="2.30" height="18.00" fill="#eacfd7"/>
<rect x="108.70" y="47.80" width="2.30" height="21.30" fill="#e9cdd5"/>
<rect x="108.70" y="68.10" width="2.30" height="20.00" fill="#e7c4cc"/>
<rect x="108.70" y="87.10" width="2.30" height="19.90" fill="#f0b6a6"/>
<rect x="108.70" y="106.00" width="2.30" height="20.20" fill="#f0bdb0"/>
<rect x="108.70" y="125.20" width="2.30" height="19.90" fill="#e0a3ab"/>
<rect x="110.40" y="10.90" width="1.70" height="20.90" fill="#d0cee7"/>
<rect x="110.40" y="30.80" width="1.70" height="18.00" fill="#e5b7bf"/>
<rect x="110.40" y="47.80" width="1.70" height="21.30" fill="#e7c2ca"/>
<rect x="110.40" y="68.10" width="1.70" height="20.00" fill="#eaced6"/>
<rect x="110.40" y="87.10" width="1.70" height="19.90" fill="#eacfd7"/>
<rect x="110.40" y="106.00" width="1.70" height="20.20" fill="#efd7d7"/>
<rect x="110.40" y="125.20" width="1.70" height="19.90" fill="#d9868e"/>
<rect x="111.50" y="10.90" width="2.10" height="20.90" fill="#efd7d7"/>
<rect x="111.50" y="30.80" width="2.10" height="18.00" fill="#e8c8d0"/>
<rect x="111.50" y="47.80" width="2.10" height="21.30" fill="#efdfe4"/>
<rect x="111.50" y="68.10" width="2.10" height="20.00" fill="#eee5ee"/>
<rect x="111.50" y="87.10" width="2.10" height="19.90" fill="#dcd7e9"/>
<rect x="111.50" y="106.00" width="2.10" height="20.20" fill="#efd6d6"/>
<rect x="111.50" y="125.20" width="2.10" height="19.90" fill="#efe6ee"/>
<rect x="113.00" y="10.90" width="2.50" height="20.90" fill="#d5d2e8"/>
<rect x="113.00" y="30.80" width="2.50" height="18.00" fill="#de9ba3"/>
<rect x="113.00" y="47.80" width="2.50" height="21.30" fill="#e7c3cb"/>
<rect x="113.00" y="68.10" width="2.50" height="20.00" fill="#efd0cc"/>
<rect x="113.00" y="87.10" width="2.50" height="19.90" fill="#efdcde"/>
<rect x="113.00" y="106.00" width="2.50" height="20.20" fill="#e5bac2"/>
<rect x="113.00" y="125.20" width="2.50" height="19.90" fill="#e6c0c8"/>
<rect x="114.90" y="10.90" width="2.30" height="20.90" fill="#d3d0e7"/>
<rect x="114.90" y="30.80" width="2.30" height="18.00" fill="#d3d0e7"/>
<rect x="114.90" y="47.80" width="2.30" height="21.30" fill="#efe3e9"/>
<rect x="114.90" y="68.10" width="2.30" height="20.00" fill="#ddd8ea"/>
<rect x="114.90" y="87.10" width="2.30" height="19.90" fill="#ebd3db"/>
<rect x="114.90" y="106.00" width="2.30" height="20.20" fill="#e5deec"/>
<rect x="114.90" y="125.20" width="2.30" height="19.90" fill="#eddfe7"/>
<rect x="116.60" y="10.90" width="2.10" height="20.90" fill="#e1dbeb"/>
<rect x="116.60" y="30.80" width="2.10" height="18.00" fill="#efc9c2"/>
<rect x="116.60" y="47.80" width="2.10" height="21.30" fill="#ebd2da"/>
<rect x="116.60" y="68.10" width="2.10" height="20.00" fill="#ecd8e0"/>
<rect x="116.60" y="87.10" width="2.10" height="19.90" fill="#ecd7df"/>
<rect x="116.60" y="106.00" width="2.10" height="20.20" fill="#ede4ed"/>
<rect x="116.60" y="125.20" width="2.10" height="19.90" fill="#e6bec6"/>
<rect x="118.10" y="10.90" width="2.80" height="20.90" fill="#d7d3e8"/>
<rect x="118.10" y="30.80" width="2.80" height="18.00" fill="#eddde5"/>
<rect x="118.10" y="47.80" width="2.80" height="21.30" fill="#efdadc"/>
<rect x="118.10" y="68.10" width="2.80" height="20.00" fill="#efe4eb"/>
<rect x="118.10" y="87.10" width="2.80" height="19.90" fill="#eacfd7"/>
<rect x="118.10" y="106.00" width="2.80" height="20.20" fill="#f0bcaf"/>
<rect x="118.10" y="125.20" width="2.80" height="19.90" fill="#eee1e9"/>
<rect x="120.30" y="10.90" width="1.90" height="20.90" fill="#c6c6e4"/>
<rect x="120.30" y="30.80" width="1.90" height="18.00" fill="#eacfd7"/>
<rect x="120.30" y="47.80" width="1.90" height="21.30" fill="#e9cbd3"/>
<rect x="120.30" y="68.10" width="1.90" height="20.00" fill="#efcfca"/>
<rect x="120.30" y="87.10" width="1.90" height="19.90" fill="#e1dbeb"/>
<rect x="120.30" y="106.00" width="1.90" height="20.20" fill="#f0c2b8"/>
<rect x="120.30" y="125.20" width="1.90" height="19.90" fill="#e1dbeb"/>
<rect x="121.60" y="10.90" width="2.10" height="20.90" fill="#eddde5"/>
<rect x="121.60" y="30.80" width="2.10" height="18.00" fill="#ddd8ea"/>
<rect x="121.60" y="47.80" width="2.10" height="21.30" fill="#efe1e6"/>
<rect x="121.60" y="68.10" width="2.10" height="20.00" fill="#efe0e5"/>
<rect x="121.60" y="87.10" width="2.10" height="19.90" fill="#e9cbd3"/>
<rect x="121.60" y="106.00" width="2.10" height="20.20" fill="#eee0e8"/>
<rect x="121.60" y="125.20" width="2.10" height="19.90" fill="#efcbc5"/>
<rect x="123.10" y="10.90" width="2.30" height="20.90" fill="#cfcde6"/>
<rect x="123.10" y="30.80" width="2.30" height="18.00" fill="#e7c4cc"/>
<rect x="123.10" y="47.80" width="2.30" height="21.30" fill="#ecdae2"/>
<rect x="123.10" y="68.10" width="2.30" height="20.00" fill="#e5bcc4"/>
<rect x="123.10" y="87.10" width="2.30" height="19.90" fill="#e9cad2"/>
<rect x="123.10" y="106.00" width="2.30" height="20.20" fill="#ebe3ed"/>
<rect x="123.10" y="125.20" width="2.30" height="19.90" fill="#f0c2b8"/>
<rect x="124.80" y="10.90" width="2.10" height="20.90" fill="#e4deeb"/>
<rect x="124.80" y="30.80" width="2.10" height="18.00" fill="#e8e1ec"/>
<rect x="124.80" y="47.80" width="2.10" height="21.30" fill="#efd6d6"/>
<rect x="124.80" y="68.10" width="2.10" height="20.00" fill="#d5d2e8"/>
<rect x="124.80" y="87.10" width="2.10" height="19.90" fill="#e7e0ec"/>
<rect x="124.80" y="106.00" width="2.10" height="20.20" fill="#ebd4dc"/>
<rect x="124.80" y="125.20" width="2.10" height="19.90" fill="#e7dfec"/>
<rect x="126.30" y="10.90" width="1.90" height="20.90" fill="#e1dbeb"/>
<rect x="126.30" y="30.80" width="1.90" height="18.00" fill="#efdfe3"/>
<rect x="126.30" y="47.80" width="1.90" height="21.30" fill="#e9c9d1"/>
<rect x="126.30" y="68.10" width="1.90" height="20.00" fill="#db8c94"/>
<rect x="126.30" y="87.10" width="1.90" height="19.90" fill="#dd98a0"/>
<rect x="126.30" y="106.00" width="1.90" height="20.20" fill="#ebd6de"/>
<rect x="126.30" y="125.20" width="1.90" height="19.90" fill="#ebd2da"/>
<rect x="127.60" y="10.90" width="1.90" height="20.90" fill="#e3ddeb"/>
<rect x="127.60" y="30.80" width="1.90" height="18.00" fill="#efe5ed"/>
<rect x="127.60" y="47.80" width="1.90" height="21.30" fill="#e6bcc4"/>
<rect x="127.60" y="68.10" width="1.90" height="20.00" fill="#ecdbe3"/>
<rect x="127.60" y="87.10" width="1.90" height="19.90" fill="#e8c6ce"/>
<rect x="127.60" y="106.00" width="1.90" height="20.20" fill="#e5b8c0"/>
<rect x="127.60" y="125.20" width="1.90" height="19.90" fill="#eaced6"/>
<rect x="128.90" y="10.90" width="1.70" height="20.90" fill="#e9e1ed"/>
<rect x="128.90" y="30.80" width="1.70" height="18.00" fill="#e3ddeb"/>
<rect x="128.90" y="47.80" width="1.70" height="21.30" fill="#cccbe6"/>
<rect x="128.90" y="68.10" width="1.70" height="20.00" fill="#e4deeb"/>
<rect x="128.90" y="87.10" width="1.70" height="19.90" fill="#cecce6"/>
<rect x="128.90" y="106.00" width="1.70" height="20.20" fill="#efd3d1"/>
<rect x="128.90" y="125.20" width="1.70" height="19.90" fill="#e2dceb"/>
<rect x="130.00" y="10.90" width="2.80" height="20.90" fill="#dcd7ea"/>
<rect x="130.00" y="30.80" width="2.80" height="18.00" fill="#eae2ed"/>
<rect x="130.00" y="47.80" width="2.80" height="21.30" fill="#e8e0ec"/>
<rect x="130.00" y="68.10" width="2.80" height="20.00" fill="#efe5ec"/>
<rect x="130.00" y="87.10" width="2.80" height="19.90" fill="#efcdc8"/>
<rect x="130.00" y="106.00" width="2.80" height="20.20" fill="#e3ddeb"/>
<rect x="130.00" y="125.20" width="2.80" height="19.90" fill="#e7c4cc"/>
<rect x="132.20" y="10.90" width="1.70" height="20.90" fill="#c7c7e5"/>
<rect x="132.20" y="30.80" width="1.70" height="18.00" fill="#efd6d5"/>
<rect x="132.20" y="47.80" width="1.70" height="21.30" fill="#f0c4bb"/>
<rect x="132.20" y="68.10" width="1.70" height="20.00" fill="#e9cad2"/>
<rect x="132.20" y="87.10" width="1.70" height="19.90" fill="#e6bfc7"/>
<rect x="132.20" y="106.00" width="1.70" height="20.20" fill="#ebd4dc"/>
<rect x="132.20" y="125.20" width="1.70" height="19.90" fill="#e9e2ed"/>
<rect x="133.30" y="10.90" width="2.50" height="20.90" fill="#cfcde6"/>
<rect x="133.30" y="30.80" width="2.50" height="18.00" fill="#e4b7bf"/>
<rect x="133.30" y="47.80" width="2.50" height="21.30" fill="#eee1e9"/>
<rect x="133.30" y="68.10" width="2.50" height="20.00" fill="#efd8d8"/>
<rect x="133.30" y="87.10" width="2.50" height="19.90" fill="#e7c3cb"/>
<rect x="133.30" y="106.00" width="2.50" height="20.20" fill="#e4ddeb"/>
<rect x="133.30" y="125.20" width="2.50" height="19.90" fill="#e2acb4"/>
<rect x="135.20" y="10.90" width="2.80" height="20.90" fill="#e1dbeb"/>
<rect x="135.20" y="30.80" width="2.80" height="18.00" fill="#ebd5dd"/>
<rect x="135.20" y="47.80" width="2.80" height="21.30" fill="#eee5ee"/>
<rect x="135.20" y="68.10" width="2.80" height="20.00" fill="#ddd8ea"/>
<rect x="135.20" y="87.10" width="2.80" height="19.90" fill="#dfd9ea"/>
<rect x="135.20" y="106.00" width="2.80" height="20.20" fill="#e6dfec"/>
<rect x="135.20" y="125.20" width="2.80" height="19.90" fill="#dfdaea"/>
<rect x="137.40" y="10.90" width="1.70" height="20.90" fill="#ede4ed"/>
<rect x="137.40" y="30.80" width="1.70" height="18.00" fill="#eee0e8"/>
<rect x="137.40" y="47.80" width="1.70" height="21.30" fill="#f0c6bd"/>
<rect x="137.40" y="68.10" width="1.70" height="20.00" fill="#e6bfc7"/>
<rect x="137.40" y="87.10" width="1.70" height="19.90" fill="#f0c1b6"/>
<rect x="137.40" y="106.00" width="1.70" height="20.20" fill="#e8c7cf"/>
<rect x="137.40" y="125.20" width="1.70" height="19.90" fill="#e0daea"/>
<rect x="138.50" y="10.90" width="1.50" height="20.90" fill="#bfc1e3"/>
<rect x="138.50" y="30.80" width="1.50" height="18.00" fill="#c3c4e4"/>
<rect x="138.50" y="47.80" width="1.50" height="21.30" fill="#e8c7cf"/>
<rect x="138.50" y="68.10" width="1.50" height="20.00" fill="#dfdaea"/>
<rect x="138.50" y="87.10" width="1.50" height="19.90" fill="#e7c4cc"/>
<rect x="138.50" y="106.00" width="1.50" height="20.20" fill="#ece3ed"/>
<rect x="138.50" y="125.20" width="1.50" height="19.90" fill="#ead2da"/>
<rect x="139.40" y="10.90" width="2.30" height="20.90" fill="#c9c8e5"/>
<rect x="139.40" y="30.80" width="2.30" height="18.00" fill="#efd5d4"/>
<rect x="139.40" y="47.80" width="2.30" height="21.30" fill="#e5bac2"/>
<rect x="139.40" y="68.10" width="2.30" height="20.00" fill="#dd979f"/>
<rect x="139.40" y="87.10" width="2.30" height="19.90" fill="#e3afb7"/>
<rect x="139.40" y="106.00" width="2.30" height="20.20" fill="#f0bcae"/>
<rect x="139.40" y="125.20" width="2.30" height="19.90" fill="#dfa1a9"/>
<rect x="141.10" y="10.90" width="1.90" height="20.90" fill="#cdcce6"/>
<rect x="141.10" y="30.80" width="1.90" height="18.00" fill="#eddfe7"/>
<rect x="141.10" y="47.80" width="1.90" height="21.30" fill="#da8890"/>
<rect x="141.10" y="68.10" width="1.90" height="20.00" fill="#e0a4ac"/>
<rect x="141.10" y="87.10" width="1.90" height="19.90" fill="#efdcdf"/>
<rect x="141.10" y="106.00" width="1.90" height="20.20" fill="#ece3ed"/>
<rect x="141.10" y="125.20" width="1.90" height="19.90" fill="#e8c7cf"/>
<rect x="142.40" y="10.90" width="2.30" height="20.90" fill="#d3d1e7"/>
<rect x="142.40" y="30.80" width="2.30" height="18.00" fill="#efdee3"/>
<rect x="142.40" y="47.80" width="2.30" height="21.30" fill="#f0c3b9"/>
<rect x="142.40" y="68.10" width="2.30" height="20.00" fill="#efd4d2"/>
<rect x="142.40" y="87.10" width="2.30" height="19.90" fill="#e9cdd5"/>
<rect x="142.40" y="106.00" width="2.30" height="20.20" fill="#e6bfc7"/>
<rect x="142.40" y="125.20" width="2.30" height="19.90" fill="#eddde5"/>
<rect x="144.10" y="10.90" width="2.10" height="20.90" fill="#ded8ea"/>
<rect x="144.10" y="30.80" width="2.10" height="18.00" fill="#efc9c3"/>
<rect x="144.10" y="47.80" width="2.10" height="21.30" fill="#ded9ea"/>
<rect x="144.10" y="68.10" width="2.10" height="20.00" fill="#ebe3ed"/>
<rect x="144.10" y="87.10" width="2.10" height="19.90" fill="#eee5ee"/>
<rect x="144.10" y="106.00" width="2.10" height="20.20" fill="#efdee2"/>
<rect x="144.10" y="125.20" width="2.10" height="19.90" fill="#e5deec"/>
<rect x="145.60" y="10.90" width="1.10" height="20.90" fill="#e6dfec"/>
<rect x="145.60" y="30.80" width="1.10" height="18.00" fill="#e5b8c0"/>
<rect x="145.60" y="47.80" width="1.10" height="21.30" fill="#e6bec6"/>
<rect x="145.60" y="68.10" width="1.10" height="20.00" fill="#e1a8b0"/>
<rect x="145.60" y="87.10" width="1.10" height="19.90" fill="#eee3eb"/>
<rect x="145.60" y="106.00" width="1.10" height="20.20" fill="#efe5ed"/>
<rect x="145.60" y="125.20" width="1.10" height="19.90" fill="#e7c2ca"/>
<rect x="146.10" y="10.90" width="3.20" height="20.90" fill="#f8c4b0"/>
<rect x="146.10" y="30.80" width="3.20" height="18.00" fill="#c8cfe8"/>
<rect x="146.10" y="47.80" width="3.20" height="21.30" fill="#f2b0a0"/>
<rect x="146.10" y="68.10" width="3.20" height="20.00" fill="#eee6f0"/>
<rect x="146.10" y="87.10" width="3.20" height="19.90" fill="#f6dcd8"/>
<rect x="146.10" y="106.00" width="3.20" height="20.20" fill="#b8c0e0"/>
<rect x="146.10" y="125.20" width="3.20" height="19.90" fill="#f0e8f0"/>
<rect x="148.70" y="10.90" width="2.80" height="20.90" fill="#f8d0c0"/>
<rect x="148.70" y="30.80" width="2.80" height="18.00" fill="#ccd2ea"/>
<rect x="148.70" y="47.80" width="2.80" height="21.30" fill="#f8c8b8"/>
<rect x="148.70" y="68.10" width="2.80" height="20.00" fill="#ecdce8"/>
<rect x="148.70" y="87.10" width="2.80" height="19.90" fill="#f2eaf0"/>
<rect x="148.70" y="106.00" width="2.80" height="20.20" fill="#b8c0e0"/>
<rect x="148.70" y="125.20" width="2.80" height="19.90" fill="#e8dcea"/>
<rect x="150.90" y="10.90" width="2.80" height="20.90" fill="#fadad0"/>
<rect x="150.90" y="30.80" width="2.80" height="18.00" fill="#c4cce6"/>
<rect x="150.90" y="47.80" width="2.80" height="21.30" fill="#f8c8b8"/>
<rect x="150.90" y="68.10" width="2.80" height="20.00" fill="#eee6f0"/>
<rect x="150.90" y="87.10" width="2.80" height="19.90" fill="#e8e4f0"/>
<rect x="150.90" y="106.00" width="2.80" height="20.20" fill="#acb6da"/>
<rect x="150.90" y="125.20" width="2.80" height="19.90" fill="#dcdcec"/>
<rect x="153.10" y="10.90" width="3.20" height="20.90" fill="#f8c4b0"/>
<rect x="153.10" y="30.80" width="3.20" height="18.00" fill="#ccd2ea"/>
<rect x="153.10" y="47.80" width="3.20" height="21.30" fill="#f2b0a0"/>
<rect x="153.10" y="68.10" width="3.20" height="20.00" fill="#f4e8ee"/>
<rect x="153.10" y="87.10" width="3.20" height="19.90" fill="#f0e6ee"/>
<rect x="153.10" y="106.00" width="3.20" height="20.20" fill="#b0b8dc"/>
<rect x="153.10" y="125.20" width="3.20" height="19.90" fill="#dcdcec"/>
<rect x="155.70" y="10.90" width="2.40" height="20.90" fill="#f8d0c0"/>
<rect x="155.70" y="30.80" width="2.40" height="18.00" fill="#d0d4ec"/>
<rect x="155.70" y="47.80" width="2.40" height="21.30" fill="#f8d4c4"/>
<rect x="155.70" y="68.10" width="2.40" height="20.00" fill="#f4e8ee"/>
<rect x="155.70" y="87.10" width="2.40" height="19.90" fill="#f6dcd8"/>
<rect x="155.70" y="106.00" width="2.40" height="20.20" fill="#acb6da"/>
<rect x="155.70" y="125.20" width="2.40" height="19.90" fill="#f4dcdc"/>
<rect x="157.50" y="10.90" width="2.40" height="20.90" fill="#f4b8a4"/>
<rect x="157.50" y="30.80" width="2.40" height="18.00" fill="#c4cce6"/>
<rect x="157.50" y="47.80" width="2.40" height="21.30" fill="#f8c8b8"/>
<rect x="157.50" y="68.10" width="2.40" height="20.00" fill="#ecdce8"/>
<rect x="157.50" y="87.10" width="2.40" height="19.90" fill="#e8e4f0"/>
<rect x="157.50" y="106.00" width="2.40" height="20.20" fill="#acb6da"/>
<rect x="157.50" y="125.20" width="2.40" height="19.90" fill="#dcdcec"/>
<rect x="159.30" y="10.90" width="2.00" height="20.90" fill="#f4b8a4"/>
<rect x="159.30" y="30.80" width="2.00" height="18.00" fill="#c4cce6"/>
<rect x="159.30" y="47.80" width="2.00" height="21.30" fill="#f2b0a0"/>
<rect x="159.30" y="68.10" width="2.00" height="20.00" fill="#eee6f0"/>
<rect x="159.30" y="87.10" width="2.00" height="19.90" fill="#f2eaf0"/>
<rect x="159.30" y="106.00" width="2.00" height="20.20" fill="#b4bcdc"/>
<rect x="159.30" y="125.20" width="2.00" height="19.90" fill="#e8dcea"/>
<rect x="142.60" y="11.10" width="1.70" height="20.50" fill="#c41820"/>
<rect x="144.30" y="11.10" width="1.80" height="20.50" fill="#dc5058"/>
<rect x="142.60" y="31.00" width="1.70" height="17.60" fill="#e89098"/>
<rect x="144.30" y="31.00" width="1.80" height="17.60" fill="#f0c0c0"/>
<rect x="142.60" y="48.00" width="1.70" height="20.90" fill="#e04848"/>
<rect x="144.30" y="48.00" width="1.80" height="20.90" fill="#e88070"/>
<rect x="142.60" y="68.30" width="1.70" height="19.60" fill="#cc2830"/>
<rect x="144.30" y="68.30" width="1.80" height="19.60" fill="#e06058"/>
<rect x="142.60" y="87.30" width="1.70" height="19.50" fill="#e06058"/>
<rect x="144.30" y="87.30" width="1.80" height="19.50" fill="#e88870"/>
</g></g>
<text x="162.70" y="24.65" font-size="5.1" text-anchor="start" fill="#222" stroke="#222" stroke-width="0.153">KPNA5</text>
<text x="162.70" y="43.18" font-size="5.1" text-anchor="start" fill="#222" stroke="#222" stroke-width="0.153">KPNA7</text>
<text x="162.70" y="61.71" font-size="5.1" text-anchor="start" fill="#222" stroke="#222" stroke-width="0.153">KPNA3</text>
<text x="162.70" y="80.24" font-size="5.1" text-anchor="start" fill="#222" stroke="#222" stroke-width="0.153">KPNA1</text>
<text x="162.70" y="98.77" font-size="5.1" text-anchor="start" fill="#222" stroke="#222" stroke-width="0.153">KPNA4</text>
<text x="162.70" y="117.30" font-size="5.1" text-anchor="start" fill="#222" stroke="#222" stroke-width="0.153">KPNA2</text>
<text x="162.70" y="135.83" font-size="5.1" text-anchor="start" fill="#222" stroke="#222" stroke-width="0.153">KPNA6</text>
<line x1="10.00" y1="78.30" x2="10.00" y2="97.30" stroke="#2e2e2e" stroke-width="0.8"/>
<line x1="10.00" y1="78.30" x2="19.00" y2="78.30" stroke="#2e2e2e" stroke-width="0.8"/>
<line x1="10.00" y1="97.30" x2="19.00" y2="97.30" stroke="#2e2e2e" stroke-width="0.8"/>
<line x1="6.60" y1="59.30" x2="6.60" y2="87.80" stroke="#2e2e2e" stroke-width="0.8"/>
<line x1="6.60" y1="59.30" x2="19.00" y2="59.30" stroke="#2e2e2e" stroke-width="0.8"/>
<line x1="6.60" y1="87.80" x2="10.00" y2="87.80" stroke="#2e2e2e" stroke-width="0.8"/>
<line x1="5.50" y1="116.50" x2="5.50" y2="135.00" stroke="#2e2e2e" stroke-width="0.8"/>
<line x1="5.50" y1="116.50" x2="19.00" y2="116.50" stroke="#2e2e2e" stroke-width="0.8"/>
<line x1="5.50" y1="135.00" x2="19.00" y2="135.00" stroke="#2e2e2e" stroke-width="0.8"/>
<line x1="4.30" y1="73.55" x2="4.30" y2="125.75" stroke="#2e2e2e" stroke-width="0.8"/>
<line x1="4.30" y1="73.55" x2="6.60" y2="73.55" stroke="#2e2e2e" stroke-width="0.8"/>
<line x1="4.30" y1="125.75" x2="5.50" y2="125.75" stroke="#2e2e2e" stroke-width="0.8"/>
<line x1="2.80" y1="40.20" x2="2.80" y2="99.65" stroke="#2e2e2e" stroke-width="0.8"/>
<line x1="2.80" y1="40.20" x2="19.00" y2="40.20" stroke="#2e2e2e" stroke-width="0.8"/>
<line x1="2.80" y1="99.65" x2="4.30" y2="99.65" stroke="#2e2e2e" stroke-width="0.8"/>
<line x1="1.40" y1="21.40" x2="1.40" y2="69.93" stroke="#2e2e2e" stroke-width="0.8"/>
<line x1="1.40" y1="21.40" x2="19.00" y2="21.40" stroke="#2e2e2e" stroke-width="0.8"/>
<line x1="1.40" y1="69.93" x2="2.80" y2="69.93" stroke="#2e2e2e" stroke-width="0.8"/>
<text x="183.00" y="24.20" font-size="5.5" text-anchor="start" fill="#222" stroke="#222" stroke-width="0.165">group</text>
<rect x="183.80" y="27.00" width="7.40" height="7.00" fill="#22549e"/>
<rect x="183.80" y="35.60" width="7.40" height="7.00" fill="#e8161c"/>
<text x="193.80" y="32.80" font-size="4.8" text-anchor="start" fill="#222" stroke="#222" stroke-width="0.144">normal</text>
<text x="193.80" y="40.40" font-size="4.8" text-anchor="start" fill="#222" stroke="#222" stroke-width="0.144">tumor</text>
<defs><linearGradient id="cbA" x1="0" y1="0" x2="0" y2="1"><stop offset="0" stop-color="#e8141a"/><stop offset="0.25" stop-color="#ea2a28"/><stop offset="0.38" stop-color="#f28878"/><stop offset="0.5" stop-color="#fbf5f5"/><stop offset="0.6" stop-color="#b8c3e2"/><stop offset="0.72" stop-color="#3e6ab0"/><stop offset="1" stop-color="#1d4e92"/></linearGradient></defs>
<rect x="184.00" y="50.50" width="7.80" height="46.00" fill="url(#cbA)"/>
<text x="193.80" y="53.60" font-size="4.6" text-anchor="start" fill="#222" stroke="#222" stroke-width="0.138">4</text>
<text x="193.80" y="64.60" font-size="4.6" text-anchor="start" fill="#222" stroke="#222" stroke-width="0.138">2</text>
<text x="193.80" y="75.10" font-size="4.6" text-anchor="start" fill="#222" stroke="#222" stroke-width="0.138">0</text>
<text x="193.80" y="86.10" font-size="4.6" text-anchor="start" fill="#222" stroke="#222" stroke-width="0.138">-2</text>
<text x="193.80" y="96.40" font-size="4.6" text-anchor="start" fill="#222" stroke="#222" stroke-width="0.138">-4</text>
<text x="213.80" y="7.60" font-size="6.9" text-anchor="start" font-weight="bold" fill="#111" stroke="#111" stroke-width="0.28">B</text>
<rect x="235.30" y="17.30" width="17.40" height="17.40" fill="#d42a2a"/>
<rect x="253.60" y="17.30" width="17.40" height="17.40" fill="#f3c2a6"/>
<rect x="271.90" y="17.30" width="17.40" height="17.40" fill="#c2c1c8"/>
<rect x="290.20" y="17.30" width="17.40" height="17.40" fill="#f8dcc0"/>
<rect x="308.50" y="17.30" width="17.40" height="17.40" fill="#f2b898"/>
<rect x="326.80" y="17.30" width="17.40" height="17.40" fill="#1f1f9a"/>
<rect x="345.10" y="17.30" width="17.40" height="17.40" fill="#e8e6d0"/>
<rect x="235.30" y="35.60" width="17.40" height="17.40" fill="#f3c2a6"/>
<rect x="253.60" y="35.60" width="17.40" height="17.40" fill="#d42a2a"/>
<rect x="271.90" y="35.60" width="17.40" height="17.40" fill="#3a48a2"/>
<rect x="290.20" y="35.60" width="17.40" height="17.40" fill="#9ea4c4"/>
<rect x="308.50" y="35.60" width="17.40" height="17.40" fill="#9ea4c4"/>
<rect x="326.80" y="35.60" width="17.40" height="17.40" fill="#3a48a4"/>
<rect x="345.10" y="35.60" width="17.40" height="17.40" fill="#c0c0c8"/>
<rect x="235.30" y="53.90" width="17.40" height="17.40" fill="#c2c1c8"/>
<rect x="253.60" y="53.90" width="17.40" height="17.40" fill="#3a48a2"/>
<rect x="271.90" y="53.90" width="17.40" height="17.40" fill="#d42a2a"/>
<rect x="290.20" y="53.90" width="17.40" height="17.40" fill="#ea7a6a"/>
<rect x="308.50" y="53.90" width="17.40" height="17.40" fill="#e8806e"/>
<rect x="326.80" y="53.90" width="17.40" height="17.40" fill="#f0a088"/>
<rect x="345.10" y="53.90" width="17.40" height="17.40" fill="#fbe0c0"/>
<rect x="235.30" y="72.20" width="17.40" height="17.40" fill="#f8dcc0"/>
<rect x="253.60" y="72.20" width="17.40" height="17.40" fill="#9ea2c2"/>
<rect x="271.90" y="72.20" width="17.40" height="17.40" fill="#e88a75"/>
<rect x="290.20" y="72.20" width="17.40" height="17.40" fill="#d83030"/>
<rect x="308.50" y="72.20" width="17.40" height="17.40" fill="#da3838"/>
<rect x="326.80" y="72.20" width="17.40" height="17.40" fill="#faf2d4"/>
<rect x="345.10" y="72.20" width="17.40" height="17.40" fill="#e8907c"/>
<rect x="235.30" y="90.50" width="17.40" height="17.40" fill="#f0b49a"/>
<rect x="253.60" y="90.50" width="17.40" height="17.40" fill="#9fa2c4"/>
<rect x="271.90" y="90.50" width="17.40" height="17.40" fill="#e5806e"/>
<rect x="290.20" y="90.50" width="17.40" height="17.40" fill="#dd3c3c"/>
<rect x="308.50" y="90.50" width="17.40" height="17.40" fill="#d82828"/>
<rect x="326.80" y="90.50" width="17.40" height="17.40" fill="#faf4d6"/>
<rect x="345.10" y="90.50" width="17.40" height="17.40" fill="#f3c0a8"/>
<rect x="235.30" y="108.80" width="17.40" height="17.40" fill="#1c1f96"/>
<rect x="253.60" y="108.80" width="17.40" height="17.40" fill="#3b42a0"/>
<rect x="271.90" y="108.80" width="17.40" height="17.40" fill="#eb9480"/>
<rect x="290.20" y="108.80" width="17.40" height="17.40" fill="#f9efd2"/>
<rect x="308.50" y="108.80" width="17.40" height="17.40" fill="#f9f1d4"/>
<rect x="326.80" y="108.80" width="17.40" height="17.40" fill="#d42a2a"/>
<rect x="345.10" y="108.80" width="17.40" height="17.40" fill="#f8dcc4"/>
<rect x="235.30" y="127.10" width="17.40" height="17.40" fill="#e8e6cc"/>
<rect x="253.60" y="127.10" width="17.40" height="17.40" fill="#b8b8c4"/>
<rect x="271.90" y="127.10" width="17.40" height="17.40" fill="#f8e4c0"/>
<rect x="290.20" y="127.10" width="17.40" height="17.40" fill="#ec9a86"/>
<rect x="308.50" y="127.10" width="17.40" height="17.40" fill="#f2b8a0"/>
<rect x="326.80" y="127.10" width="17.40" height="17.40" fill="#f8d8c0"/>
<rect x="345.10" y="127.10" width="17.40" height="17.40" fill="#d42a2a"/>
<circle cx="299.05" cy="81.05" r="0.7" fill="#8a2020" opacity="0.6"/>
<circle cx="317.35" cy="81.05" r="0.7" fill="#8a2020" opacity="0.6"/>
<circle cx="299.05" cy="99.35" r="0.7" fill="#8a2020" opacity="0.6"/>
<circle cx="317.35" cy="99.35" r="0.7" fill="#8a2020" opacity="0.6"/>
<circle cx="244.15" cy="26.15" r="0.7" fill="#8a2020" opacity="0.6"/>
<circle cx="262.45" cy="44.45" r="0.7" fill="#8a2020" opacity="0.6"/>
<circle cx="280.75" cy="62.75" r="0.7" fill="#8a2020" opacity="0.6"/>
<circle cx="335.65" cy="117.65" r="0.7" fill="#8a2020" opacity="0.6"/>
<circle cx="353.95" cy="135.95" r="0.7" fill="#8a2020" opacity="0.6"/>
<text x="232.00" y="27.05" font-size="4.3" text-anchor="end" fill="#333" stroke="#333" stroke-width="0.129">KPNA2</text>
<text x="245.65" y="15.00" font-size="4.3" text-anchor="start" fill="#333" transform="rotate(-90 245.65 15.0)" stroke="#333" stroke-width="0.129">KPNA2</text>
<text x="232.00" y="45.35" font-size="4.3" text-anchor="end" fill="#333" stroke="#333" stroke-width="0.129">KPNA7</text>
<text x="263.95" y="15.00" font-size="4.3" text-anchor="start" fill="#333" transform="rotate(-90 263.95 15.0)" stroke="#333" stroke-width="0.129">KPNA7</text>
<text x="232.00" y="63.65" font-size="4.3" text-anchor="end" fill="#333" stroke="#333" stroke-width="0.129">KPNA3</text>
<text x="282.25" y="15.00" font-size="4.3" text-anchor="start" fill="#333" transform="rotate(-90 282.25 15.0)" stroke="#333" stroke-width="0.129">KPNA3</text>
<text x="232.00" y="81.95" font-size="4.3" text-anchor="end" fill="#333" stroke="#333" stroke-width="0.129">KPNA1</text>
<text x="300.55" y="15.00" font-size="4.3" text-anchor="start" fill="#333" transform="rotate(-90 300.55 15.0)" stroke="#333" stroke-width="0.129">KPNA1</text>
<text x="232.00" y="100.25" font-size="4.3" text-anchor="end" fill="#333" stroke="#333" stroke-width="0.129">KPNA4</text>
<text x="318.85" y="15.00" font-size="4.3" text-anchor="start" fill="#333" transform="rotate(-90 318.85 15.0)" stroke="#333" stroke-width="0.129">KPNA4</text>
<text x="232.00" y="118.55" font-size="4.3" text-anchor="end" fill="#333" stroke="#333" stroke-width="0.129">KPNA5</text>
<text x="337.15" y="15.00" font-size="4.3" text-anchor="start" fill="#333" transform="rotate(-90 337.15 15.0)" stroke="#333" stroke-width="0.129">KPNA5</text>
<text x="232.00" y="136.85" font-size="4.3" text-anchor="end" fill="#333" stroke="#333" stroke-width="0.129">KPNA6</text>
<text x="355.45" y="15.00" font-size="4.3" text-anchor="start" fill="#333" transform="rotate(-90 355.45 15.0)" stroke="#333" stroke-width="0.129">KPNA6</text>
<defs><linearGradient id="cbB" x1="0" y1="0" x2="0" y2="1"><stop offset="0" stop-color="#c81e24"/><stop offset="0.2" stop-color="#e86a5c"/><stop offset="0.4" stop-color="#f6c8a8"/><stop offset="0.5" stop-color="#f7f2d0"/><stop offset="0.6" stop-color="#c4c4d0"/><stop offset="0.7" stop-color="#9a9cc4"/><stop offset="0.8" stop-color="#5a62ae"/><stop offset="1" stop-color="#10167e"/></linearGradient></defs>
<rect x="365.20" y="17.00" width="6.60" height="128.00" fill="url(#cbB)"/>
<line x1="371.80" y1="17.00" x2="373.20" y2="17.00" stroke="#555" stroke-width="0.4"/>
<text x="374.40" y="18.50" font-size="4.4" text-anchor="start" fill="#222" stroke="#222" stroke-width="0.132">1</text>
<line x1="371.80" y1="29.80" x2="373.20" y2="29.80" stroke="#555" stroke-width="0.4"/>
<text x="374.40" y="31.30" font-size="4.4" text-anchor="start" fill="#222" stroke="#222" stroke-width="0.132">0.8</text>
<line x1="371.80" y1="42.60" x2="373.20" y2="42.60" stroke="#555" stroke-width="0.4"/>
<text x="374.40" y="44.10" font-size="4.4" text-anchor="start" fill="#222" stroke="#222" stroke-width="0.132">0.6</text>
<line x1="371.80" y1="55.40" x2="373.20" y2="55.40" stroke="#555" stroke-width="0.4"/>
<text x="374.40" y="56.90" font-size="4.4" text-anchor="start" fill="#222" stroke="#222" stroke-width="0.132">0.4</text>
<line x1="371.80" y1="68.20" x2="373.20" y2="68.20" stroke="#555" stroke-width="0.4"/>
<text x="374.40" y="69.70" font-size="4.4" text-anchor="start" fill="#222" stroke="#222" stroke-width="0.132">0.2</text>
<line x1="371.80" y1="81.00" x2="373.20" y2="81.00" stroke="#555" stroke-width="0.4"/>
<text x="374.40" y="82.50" font-size="4.4" text-anchor="start" fill="#222" stroke="#222" stroke-width="0.132">0</text>
<line x1="371.80" y1="93.80" x2="373.20" y2="93.80" stroke="#555" stroke-width="0.4"/>
<text x="374.40" y="95.30" font-size="4.4" text-anchor="start" fill="#222" stroke="#222" stroke-width="0.132">-0.2</text>
<line x1="371.80" y1="106.60" x2="373.20" y2="106.60" stroke="#555" stroke-width="0.4"/>
<text x="374.40" y="108.10" font-size="4.4" text-anchor="start" fill="#222" stroke="#222" stroke-width="0.132">-0.4</text>
<line x1="371.80" y1="119.40" x2="373.20" y2="119.40" stroke="#555" stroke-width="0.4"/>
<text x="374.40" y="120.90" font-size="4.4" text-anchor="start" fill="#222" stroke="#222" stroke-width="0.132">-0.6</text>
<line x1="371.80" y1="132.20" x2="373.20" y2="132.20" stroke="#555" stroke-width="0.4"/>
<text x="374.40" y="133.70" font-size="4.4" text-anchor="start" fill="#222" stroke="#222" stroke-width="0.132">-0.8</text>
<line x1="371.80" y1="145.00" x2="373.20" y2="145.00" stroke="#555" stroke-width="0.4"/>
<text x="374.40" y="146.50" font-size="4.4" text-anchor="start" fill="#222" stroke="#222" stroke-width="0.132">-1</text>
<text x="1.50" y="156.00" font-size="6.9" text-anchor="start" font-weight="bold" fill="#111" stroke="#111" stroke-width="0.28">C</text>
<rect x="14.50" y="161.30" width="148.50" height="91.00" fill="none" stroke="#8a8a8a" stroke-width="0.7"/>
<line x1="14.50" y1="161.30" x2="14.50" y2="252.30" stroke="#505050" stroke-width="0.7"/>
<line x1="14.50" y1="252.30" x2="163.00" y2="252.30" stroke="#505050" stroke-width="0.7"/>
<line x1="12.80" y1="248.20" x2="14.50" y2="248.20" stroke="#444" stroke-width="0.5"/>
<text x="12.20" y="249.50" font-size="3.9" text-anchor="end" fill="#333" stroke="#333" stroke-width="0.117">0.0</text>
<line x1="12.80" y1="234.20" x2="14.50" y2="234.20" stroke="#444" stroke-width="0.5"/>
<text x="12.20" y="235.50" font-size="3.9" text-anchor="end" fill="#333" stroke="#333" stroke-width="0.117">0.5</text>
<line x1="12.80" y1="220.20" x2="14.50" y2="220.20" stroke="#444" stroke-width="0.5"/>
<text x="12.20" y="221.50" font-size="3.9" text-anchor="end" fill="#333" stroke="#333" stroke-width="0.117">1.0</text>
<line x1="12.80" y1="206.20" x2="14.50" y2="206.20" stroke="#444" stroke-width="0.5"/>
<text x="12.20" y="207.50" font-size="3.9" text-anchor="end" fill="#333" stroke="#333" stroke-width="0.117">1.5</text>
<line x1="12.80" y1="192.20" x2="14.50" y2="192.20" stroke="#444" stroke-width="0.5"/>
<text x="12.20" y="193.50" font-size="3.9" text-anchor="end" fill="#333" stroke="#333" stroke-width="0.117">2.0</text>
<line x1="12.80" y1="178.20" x2="14.50" y2="178.20" stroke="#444" stroke-width="0.5"/>
<text x="12.20" y="179.50" font-size="3.9" text-anchor="end" fill="#333" stroke="#333" stroke-width="0.117">2.5</text>
<line x1="12.80" y1="164.20" x2="14.50" y2="164.20" stroke="#444" stroke-width="0.5"/>
<text x="12.20" y="165.50" font-size="3.9" text-anchor="end" fill="#333" stroke="#333" stroke-width="0.117">3.0</text>
<text x="3.40" y="203.60" font-size="4.4" text-anchor="middle" fill="#444" transform="rotate(-90 3.4 203.6)" stroke="#444" stroke-width="0.132">Expression</text>
<line x1="26.90" y1="252.30" x2="26.90" y2="253.90" stroke="#444" stroke-width="0.5"/>
<text x="26.90" y="260.30" font-size="3.1" text-anchor="middle" fill="#555" stroke="#555" stroke-width="0.139">KPNA1</text>
<line x1="47.54" y1="252.30" x2="47.54" y2="253.90" stroke="#444" stroke-width="0.5"/>
<text x="47.54" y="260.30" font-size="3.1" text-anchor="middle" fill="#555" stroke="#555" stroke-width="0.139">KPNA2</text>
<line x1="68.18" y1="252.30" x2="68.18" y2="253.90" stroke="#444" stroke-width="0.5"/>
<text x="68.18" y="260.30" font-size="3.1" text-anchor="middle" fill="#555" stroke="#555" stroke-width="0.139">KPNA3</text>
<line x1="88.82" y1="252.30" x2="88.82" y2="253.90" stroke="#444" stroke-width="0.5"/>
<text x="88.82" y="260.30" font-size="3.1" text-anchor="middle" fill="#555" stroke="#555" stroke-width="0.139">KPNA4</text>
<line x1="109.46" y1="252.30" x2="109.46" y2="253.90" stroke="#444" stroke-width="0.5"/>
<text x="109.46" y="260.30" font-size="3.1" text-anchor="middle" fill="#555" stroke="#555" stroke-width="0.139">KPNA5</text>
<line x1="130.10" y1="252.30" x2="130.10" y2="253.90" stroke="#444" stroke-width="0.5"/>
<text x="130.10" y="260.30" font-size="3.1" text-anchor="middle" fill="#555" stroke="#555" stroke-width="0.139">KPNA6</text>
<line x1="150.74" y1="252.30" x2="150.74" y2="253.90" stroke="#444" stroke-width="0.5"/>
<text x="150.74" y="260.30" font-size="3.1" text-anchor="middle" fill="#555" stroke="#555" stroke-width="0.139">KPNA7</text>
<line x1="22.70" y1="198.00" x2="22.70" y2="210.00" stroke="#808080" stroke-width="0.55"/>
<line x1="22.70" y1="215.50" x2="22.70" y2="221.00" stroke="#808080" stroke-width="0.55"/>
<line x1="22.70" y1="196.00" x2="22.70" y2="205.00" stroke="#111" stroke-width="1.2"/>
<line x1="22.70" y1="222.50" x2="22.70" y2="228.00" stroke="#111" stroke-width="1.2"/>
<rect x="18.75" y="210.00" width="7.90" height="5.50" fill="#f01014" stroke="#5a0808" stroke-width="0.45"/>
<line x1="18.75" y1="212.70" x2="26.65" y2="212.70" stroke="#5a0808" stroke-width="1.0"/>
<line x1="31.10" y1="209.00" x2="31.10" y2="211.80" stroke="#808080" stroke-width="0.55"/>
<line x1="31.10" y1="214.50" x2="31.10" y2="217.00" stroke="#808080" stroke-width="0.55"/>
<rect x="27.15" y="211.80" width="7.90" height="2.70" fill="#1462c4" stroke="#0a2058" stroke-width="0.45"/>
<line x1="27.15" y1="213.20" x2="35.05" y2="213.20" stroke="#0a2058" stroke-width="1.0"/>
<polyline points="22.70,198.70 22.70,196.50 31.10,196.50 31.10,198.70" fill="none" stroke="#444" stroke-width="0.45" stroke-linejoin="round"/>
<text x="26.90" y="195.70" font-size="3.0" text-anchor="middle" fill="#444" stroke="#444" stroke-width="0.135">ns</text>
<line x1="43.34" y1="171.50" x2="43.34" y2="187.00" stroke="#808080" stroke-width="0.55"/>
<line x1="43.34" y1="199.50" x2="43.34" y2="215.50" stroke="#808080" stroke-width="0.55"/>
<circle cx="43.34" cy="167.80" r="0.7" fill="#111"/>
<rect x="39.39" y="187.00" width="7.90" height="12.50" fill="#f01014" stroke="#5a0808" stroke-width="0.45"/>
<line x1="39.39" y1="192.80" x2="47.29" y2="192.80" stroke="#5a0808" stroke-width="1.0"/>
<line x1="51.74" y1="198.00" x2="51.74" y2="205.50" stroke="#808080" stroke-width="0.55"/>
<line x1="51.74" y1="211.00" x2="51.74" y2="215.00" stroke="#808080" stroke-width="0.55"/>
<circle cx="51.74" cy="197.20" r="0.7" fill="#111"/>
<rect x="47.79" y="205.50" width="7.90" height="5.50" fill="#1462c4" stroke="#0a2058" stroke-width="0.45"/>
<line x1="47.79" y1="208.00" x2="55.69" y2="208.00" stroke="#0a2058" stroke-width="1.0"/>
<polyline points="43.34,167.20 43.34,165.00 51.74,165.00 51.74,167.20" fill="none" stroke="#444" stroke-width="0.45" stroke-linejoin="round"/>
<text x="47.54" y="164.20" font-size="3.0" text-anchor="middle" fill="#444" stroke="#444" stroke-width="0.135">***</text>
<line x1="63.98" y1="194.00" x2="63.98" y2="202.20" stroke="#808080" stroke-width="0.55"/>
<line x1="63.98" y1="207.80" x2="63.98" y2="215.50" stroke="#808080" stroke-width="0.55"/>
<line x1="63.98" y1="187.00" x2="63.98" y2="193.00" stroke="#111" stroke-width="1.2"/>
<line x1="63.98" y1="216.00" x2="63.98" y2="223.00" stroke="#111" stroke-width="1.2"/>
<rect x="60.03" y="202.20" width="7.90" height="5.60" fill="#f01014" stroke="#5a0808" stroke-width="0.45"/>
<line x1="60.03" y1="205.00" x2="67.93" y2="205.00" stroke="#5a0808" stroke-width="1.0"/>
<line x1="72.38" y1="196.50" x2="72.38" y2="199.00" stroke="#808080" stroke-width="0.55"/>
<line x1="72.38" y1="202.50" x2="72.38" y2="205.50" stroke="#808080" stroke-width="0.55"/>
<rect x="68.43" y="199.00" width="7.90" height="3.50" fill="#1462c4" stroke="#0a2058" stroke-width="0.45"/>
<line x1="68.43" y1="200.80" x2="76.33" y2="200.80" stroke="#0a2058" stroke-width="1.0"/>
<polyline points="63.98,180.70 63.98,178.50 72.38,178.50 72.38,180.70" fill="none" stroke="#444" stroke-width="0.45" stroke-linejoin="round"/>
<text x="68.18" y="177.70" font-size="3.0" text-anchor="middle" fill="#444" stroke="#444" stroke-width="0.135">ns</text>
<line x1="84.62" y1="194.00" x2="84.62" y2="203.00" stroke="#808080" stroke-width="0.55"/>
<line x1="84.62" y1="209.00" x2="84.62" y2="218.50" stroke="#808080" stroke-width="0.55"/>
<line x1="84.62" y1="188.50" x2="84.62" y2="193.50" stroke="#111" stroke-width="1.2"/>
<circle cx="84.62" cy="219.00" r="0.7" fill="#111"/>
<rect x="80.67" y="203.00" width="7.90" height="6.00" fill="#f01014" stroke="#5a0808" stroke-width="0.45"/>
<line x1="80.67" y1="206.00" x2="88.57" y2="206.00" stroke="#5a0808" stroke-width="1.0"/>
<line x1="93.02" y1="200.50" x2="93.02" y2="204.00" stroke="#808080" stroke-width="0.55"/>
<line x1="93.02" y1="207.00" x2="93.02" y2="211.50" stroke="#808080" stroke-width="0.55"/>
<circle cx="93.02" cy="200.50" r="0.7" fill="#111"/>
<circle cx="93.02" cy="211.50" r="0.7" fill="#111"/>
<rect x="89.07" y="204.00" width="7.90" height="3.00" fill="#1462c4" stroke="#0a2058" stroke-width="0.45"/>
<line x1="89.07" y1="205.50" x2="96.97" y2="205.50" stroke="#0a2058" stroke-width="1.0"/>
<polyline points="84.62,190.20 84.62,188.00 93.02,188.00 93.02,190.20" fill="none" stroke="#444" stroke-width="0.45" stroke-linejoin="round"/>
<text x="88.82" y="187.20" font-size="3.0" text-anchor="middle" fill="#444" stroke="#444" stroke-width="0.135">ns</text>
<line x1="105.26" y1="212.00" x2="105.26" y2="221.80" stroke="#808080" stroke-width="0.55"/>
<line x1="105.26" y1="228.50" x2="105.26" y2="236.00" stroke="#808080" stroke-width="0.55"/>
<line x1="105.26" y1="201.50" x2="105.26" y2="212.00" stroke="#111" stroke-width="1.2"/>
<line x1="105.26" y1="236.00" x2="105.26" y2="242.00" stroke="#111" stroke-width="1.2"/>
<rect x="101.31" y="221.80" width="7.90" height="6.70" fill="#f01014" stroke="#5a0808" stroke-width="0.45"/>
<line x1="101.31" y1="225.00" x2="109.21" y2="225.00" stroke="#5a0808" stroke-width="1.0"/>
<line x1="113.66" y1="214.50" x2="113.66" y2="218.00" stroke="#808080" stroke-width="0.55"/>
<line x1="113.66" y1="222.50" x2="113.66" y2="226.00" stroke="#808080" stroke-width="0.55"/>
<rect x="109.71" y="218.00" width="7.90" height="4.50" fill="#1462c4" stroke="#0a2058" stroke-width="0.45"/>
<line x1="109.71" y1="220.30" x2="117.61" y2="220.30" stroke="#0a2058" stroke-width="1.0"/>
<polyline points="105.26,201.20 105.26,199.00 113.66,199.00 113.66,201.20" fill="none" stroke="#444" stroke-width="0.45" stroke-linejoin="round"/>
<text x="109.46" y="198.20" font-size="3.0" text-anchor="middle" fill="#444" stroke="#444" stroke-width="0.135">ns</text>
<line x1="125.90" y1="192.00" x2="125.90" y2="200.20" stroke="#808080" stroke-width="0.55"/>
<line x1="125.90" y1="205.50" x2="125.90" y2="212.00" stroke="#808080" stroke-width="0.55"/>
<line x1="125.90" y1="212.00" x2="125.90" y2="220.00" stroke="#111" stroke-width="1.2"/>
<rect x="121.95" y="200.20" width="7.90" height="5.30" fill="#f01014" stroke="#5a0808" stroke-width="0.45"/>
<line x1="121.95" y1="202.50" x2="129.85" y2="202.50" stroke="#5a0808" stroke-width="1.0"/>
<line x1="134.30" y1="200.00" x2="134.30" y2="203.00" stroke="#808080" stroke-width="0.55"/>
<line x1="134.30" y1="205.00" x2="134.30" y2="208.00" stroke="#808080" stroke-width="0.55"/>
<line x1="134.30" y1="208.00" x2="134.30" y2="214.00" stroke="#111" stroke-width="1.2"/>
<rect x="130.35" y="203.00" width="7.90" height="2.00" fill="#1462c4" stroke="#0a2058" stroke-width="0.45"/>
<line x1="130.35" y1="204.00" x2="138.25" y2="204.00" stroke="#0a2058" stroke-width="1.0"/>
<polyline points="125.90,186.20 125.90,184.00 134.30,184.00 134.30,186.20" fill="none" stroke="#444" stroke-width="0.45" stroke-linejoin="round"/>
<text x="130.10" y="183.20" font-size="3.0" text-anchor="middle" fill="#444" stroke="#444" stroke-width="0.135">*</text>
<line x1="146.54" y1="199.00" x2="146.54" y2="220.00" stroke="#808080" stroke-width="0.55"/>
<line x1="146.54" y1="233.50" x2="146.54" y2="248.50" stroke="#808080" stroke-width="0.55"/>
<line x1="146.54" y1="196.50" x2="146.54" y2="199.00" stroke="#111" stroke-width="1.2"/>
<rect x="142.59" y="220.00" width="7.90" height="13.50" fill="#f01014" stroke="#5a0808" stroke-width="0.45"/>
<line x1="142.59" y1="226.50" x2="150.49" y2="226.50" stroke="#5a0808" stroke-width="1.0"/>
<line x1="154.94" y1="229.00" x2="154.94" y2="235.00" stroke="#808080" stroke-width="0.55"/>
<line x1="154.94" y1="241.50" x2="154.94" y2="246.50" stroke="#808080" stroke-width="0.55"/>
<circle cx="154.94" cy="223.50" r="0.7" fill="#111"/>
<rect x="150.99" y="235.00" width="7.90" height="6.50" fill="#1462c4" stroke="#0a2058" stroke-width="0.45"/>
<line x1="150.99" y1="238.50" x2="158.89" y2="238.50" stroke="#0a2058" stroke-width="1.0"/>
<polyline points="146.54,196.20 146.54,194.00 154.94,194.00 154.94,196.20" fill="none" stroke="#444" stroke-width="0.45" stroke-linejoin="round"/>
<text x="150.74" y="193.20" font-size="3.0" text-anchor="middle" fill="#444" stroke="#444" stroke-width="0.135">***</text>
<rect x="137.00" y="163.80" width="6.00" height="3.80" fill="#b8101a"/>
<rect x="137.00" y="171.00" width="6.00" height="3.80" fill="#1a4f9c"/>
<text x="146.50" y="167.30" font-size="4.8" text-anchor="start" fill="#222" stroke="#222" stroke-width="0.144">tumor</text>
<text x="146.50" y="174.60" font-size="4.8" text-anchor="start" fill="#222" stroke="#222" stroke-width="0.144">normal</text>
<text x="181.80" y="157.20" font-size="6.9" text-anchor="start" font-weight="bold" fill="#111" stroke="#111" stroke-width="0.28">D</text>
<text x="238.80" y="157.20" font-size="6.9" text-anchor="start" font-weight="bold" fill="#111" stroke="#111" stroke-width="0.28">E</text>
<text x="294.00" y="157.20" font-size="6.9" text-anchor="start" font-weight="bold" fill="#111" stroke="#111" stroke-width="0.28">F</text>
<text x="349.10" y="157.20" font-size="6.9" text-anchor="start" font-weight="bold" fill="#111" stroke="#111" stroke-width="0.28">G</text>
<rect x="192.40" y="160.40" width="36.60" height="39.40" fill="white" stroke="#9a9a9a" stroke-width="0.75"/>
<line x1="192.40" y1="199.80" x2="229.00" y2="160.40" stroke="#d0d4e0" stroke-width="0.45"/>
<polyline points="192.40,199.80 200.01,199.80 205.39,189.40 208.69,184.12 211.40,178.68 214.10,173.40 216.12,169.38 218.72,166.70 220.11,165.99 221.39,163.39 223.40,160.60 229.00,160.40" fill="none" stroke="#62749e" stroke-width="0.68" stroke-linejoin="round"/>
<line x1="191.50" y1="199.80" x2="192.40" y2="199.80" stroke="#777" stroke-width="0.3"/>
<line x1="192.40" y1="199.80" x2="192.40" y2="200.70" stroke="#777" stroke-width="0.3"/>
<text x="191.20" y="200.55" font-size="2.1" text-anchor="end" fill="#555" stroke="#555" stroke-width="0.095">0.0</text>
<text x="192.40" y="202.90" font-size="2.1" text-anchor="middle" fill="#555" stroke="#555" stroke-width="0.095">0.0</text>
<line x1="191.50" y1="191.92" x2="192.40" y2="191.92" stroke="#777" stroke-width="0.3"/>
<line x1="199.72" y1="199.80" x2="199.72" y2="200.70" stroke="#777" stroke-width="0.3"/>
<text x="191.20" y="192.67" font-size="2.1" text-anchor="end" fill="#555" stroke="#555" stroke-width="0.095">0.2</text>
<text x="199.72" y="202.90" font-size="2.1" text-anchor="middle" fill="#555" stroke="#555" stroke-width="0.095">0.2</text>
<line x1="191.50" y1="184.04" x2="192.40" y2="184.04" stroke="#777" stroke-width="0.3"/>
<line x1="207.04" y1="199.80" x2="207.04" y2="200.70" stroke="#777" stroke-width="0.3"/>
<text x="191.20" y="184.79" font-size="2.1" text-anchor="end" fill="#555" stroke="#555" stroke-width="0.095">0.4</text>
<text x="207.04" y="202.90" font-size="2.1" text-anchor="middle" fill="#555" stroke="#555" stroke-width="0.095">0.4</text>
<line x1="191.50" y1="176.16" x2="192.40" y2="176.16" stroke="#777" stroke-width="0.3"/>
<line x1="214.36" y1="199.80" x2="214.36" y2="200.70" stroke="#777" stroke-width="0.3"/>
<text x="191.20" y="176.91" font-size="2.1" text-anchor="end" fill="#555" stroke="#555" stroke-width="0.095">0.6</text>
<text x="214.36" y="202.90" font-size="2.1" text-anchor="middle" fill="#555" stroke="#555" stroke-width="0.095">0.6</text>
<line x1="191.50" y1="168.28" x2="192.40" y2="168.28" stroke="#777" stroke-width="0.3"/>
<line x1="221.68" y1="199.80" x2="221.68" y2="200.70" stroke="#777" stroke-width="0.3"/>
<text x="191.20" y="169.03" font-size="2.1" text-anchor="end" fill="#555" stroke="#555" stroke-width="0.095">0.8</text>
<text x="221.68" y="202.90" font-size="2.1" text-anchor="middle" fill="#555" stroke="#555" stroke-width="0.095">0.8</text>
<line x1="191.50" y1="160.40" x2="192.40" y2="160.40" stroke="#777" stroke-width="0.3"/>
<line x1="229.00" y1="199.80" x2="229.00" y2="200.70" stroke="#777" stroke-width="0.3"/>
<text x="191.20" y="161.15" font-size="2.1" text-anchor="end" fill="#555" stroke="#555" stroke-width="0.095">1.0</text>
<text x="229.00" y="202.90" font-size="2.1" text-anchor="middle" fill="#555" stroke="#555" stroke-width="0.095">1.0</text>
<text x="210.70" y="205.40" font-size="2.35" text-anchor="middle" fill="#5a5a5a" stroke="#5a5a5a" stroke-width="0.106">1-Specificity (FPR)</text>
<text x="186.80" y="180.10" font-size="2.35" text-anchor="middle" fill="#7a7a7a" transform="rotate(-90 186.8 180.1)" stroke="#7a7a7a" stroke-width="0.106">Sensitivity (TPR)</text>
<text x="228.40" y="194.20" font-size="1.85" text-anchor="end" fill="#555" stroke="#555" stroke-width="0.083">KPNA1</text>
<text x="228.40" y="196.30" font-size="1.85" text-anchor="end" fill="#555" stroke="#555" stroke-width="0.083">AUC 0.635</text>
<text x="228.40" y="198.90" font-size="1.85" text-anchor="end" fill="#555" stroke="#555" stroke-width="0.083">CI: 0.560-0.710</text>
<rect x="248.50" y="160.40" width="36.60" height="39.40" fill="white" stroke="#9a9a9a" stroke-width="0.75"/>
<line x1="248.50" y1="199.80" x2="285.10" y2="160.40" stroke="#d0d4e0" stroke-width="0.45"/>
<polyline points="248.50,199.80 250.33,199.80 250.51,187.98 250.77,176.16 251.43,168.28 252.89,165.52 255.82,162.76 260.58,161.19 263.51,160.40 285.10,160.40" fill="none" stroke="#62749e" stroke-width="0.68" stroke-linejoin="round"/>
<line x1="247.60" y1="199.80" x2="248.50" y2="199.80" stroke="#777" stroke-width="0.3"/>
<line x1="248.50" y1="199.80" x2="248.50" y2="200.70" stroke="#777" stroke-width="0.3"/>
<text x="247.30" y="200.55" font-size="2.1" text-anchor="end" fill="#555" stroke="#555" stroke-width="0.095">0.0</text>
<text x="248.50" y="202.90" font-size="2.1" text-anchor="middle" fill="#555" stroke="#555" stroke-width="0.095">0.0</text>
<line x1="247.60" y1="191.92" x2="248.50" y2="191.92" stroke="#777" stroke-width="0.3"/>
<line x1="255.82" y1="199.80" x2="255.82" y2="200.70" stroke="#777" stroke-width="0.3"/>
<text x="247.30" y="192.67" font-size="2.1" text-anchor="end" fill="#555" stroke="#555" stroke-width="0.095">0.2</text>
<text x="255.82" y="202.90" font-size="2.1" text-anchor="middle" fill="#555" stroke="#555" stroke-width="0.095">0.2</text>
<line x1="247.60" y1="184.04" x2="248.50" y2="184.04" stroke="#777" stroke-width="0.3"/>
<line x1="263.14" y1="199.80" x2="263.14" y2="200.70" stroke="#777" stroke-width="0.3"/>
<text x="247.30" y="184.79" font-size="2.1" text-anchor="end" fill="#555" stroke="#555" stroke-width="0.095">0.4</text>
<text x="263.14" y="202.90" font-size="2.1" text-anchor="middle" fill="#555" stroke="#555" stroke-width="0.095">0.4</text>
<line x1="247.60" y1="176.16" x2="248.50" y2="176.16" stroke="#777" stroke-width="0.3"/>
<line x1="270.46" y1="199.80" x2="270.46" y2="200.70" stroke="#777" stroke-width="0.3"/>
<text x="247.30" y="176.91" font-size="2.1" text-anchor="end" fill="#555" stroke="#555" stroke-width="0.095">0.6</text>
<text x="270.46" y="202.90" font-size="2.1" text-anchor="middle" fill="#555" stroke="#555" stroke-width="0.095">0.6</text>
<line x1="247.60" y1="168.28" x2="248.50" y2="168.28" stroke="#777" stroke-width="0.3"/>
<line x1="277.78" y1="199.80" x2="277.78" y2="200.70" stroke="#777" stroke-width="0.3"/>
<text x="247.30" y="169.03" font-size="2.1" text-anchor="end" fill="#555" stroke="#555" stroke-width="0.095">0.8</text>
<text x="277.78" y="202.90" font-size="2.1" text-anchor="middle" fill="#555" stroke="#555" stroke-width="0.095">0.8</text>
<line x1="247.60" y1="160.40" x2="248.50" y2="160.40" stroke="#777" stroke-width="0.3"/>
<line x1="285.10" y1="199.80" x2="285.10" y2="200.70" stroke="#777" stroke-width="0.3"/>
<text x="247.30" y="161.15" font-size="2.1" text-anchor="end" fill="#555" stroke="#555" stroke-width="0.095">1.0</text>
<text x="285.10" y="202.90" font-size="2.1" text-anchor="middle" fill="#555" stroke="#555" stroke-width="0.095">1.0</text>
<text x="266.80" y="205.40" font-size="2.35" text-anchor="middle" fill="#5a5a5a" stroke="#5a5a5a" stroke-width="0.106">1-Specificity (FPR)</text>
<text x="242.90" y="180.10" font-size="2.35" text-anchor="middle" fill="#7a7a7a" transform="rotate(-90 242.9 180.1)" stroke="#7a7a7a" stroke-width="0.106">Sensitivity (TPR)</text>
<text x="284.50" y="194.20" font-size="1.85" text-anchor="end" fill="#555" stroke="#555" stroke-width="0.083">KPNA2</text>
<text x="284.50" y="196.30" font-size="1.85" text-anchor="end" fill="#555" stroke="#555" stroke-width="0.083">AUC 0.635</text>
<text x="284.50" y="198.90" font-size="1.85" text-anchor="end" fill="#555" stroke="#555" stroke-width="0.083">CI: 0.560-0.710</text>
<rect x="304.30" y="160.40" width="36.00" height="39.40" fill="white" stroke="#9a9a9a" stroke-width="0.75"/>
<line x1="304.30" y1="199.80" x2="340.30" y2="160.40" stroke="#d0d4e0" stroke-width="0.45"/>
<polyline points="304.30,199.80 305.99,199.80 307.36,186.80 309.34,180.10 312.58,172.22 315.82,164.34 319.78,164.34 321.22,162.37 325.90,161.39 328.42,160.40 340.30,160.40" fill="none" stroke="#62749e" stroke-width="0.68" stroke-linejoin="round"/>
<line x1="303.40" y1="199.80" x2="304.30" y2="199.80" stroke="#777" stroke-width="0.3"/>
<line x1="304.30" y1="199.80" x2="304.30" y2="200.70" stroke="#777" stroke-width="0.3"/>
<text x="303.10" y="200.55" font-size="2.1" text-anchor="end" fill="#555" stroke="#555" stroke-width="0.095">0.0</text>
<text x="304.30" y="202.90" font-size="2.1" text-anchor="middle" fill="#555" stroke="#555" stroke-width="0.095">0.0</text>
<line x1="303.40" y1="191.92" x2="304.30" y2="191.92" stroke="#777" stroke-width="0.3"/>
<line x1="311.50" y1="199.80" x2="311.50" y2="200.70" stroke="#777" stroke-width="0.3"/>
<text x="303.10" y="192.67" font-size="2.1" text-anchor="end" fill="#555" stroke="#555" stroke-width="0.095">0.2</text>
<text x="311.50" y="202.90" font-size="2.1" text-anchor="middle" fill="#555" stroke="#555" stroke-width="0.095">0.2</text>
<line x1="303.40" y1="184.04" x2="304.30" y2="184.04" stroke="#777" stroke-width="0.3"/>
<line x1="318.70" y1="199.80" x2="318.70" y2="200.70" stroke="#777" stroke-width="0.3"/>
<text x="303.10" y="184.79" font-size="2.1" text-anchor="end" fill="#555" stroke="#555" stroke-width="0.095">0.4</text>
<text x="318.70" y="202.90" font-size="2.1" text-anchor="middle" fill="#555" stroke="#555" stroke-width="0.095">0.4</text>
<line x1="303.40" y1="176.16" x2="304.30" y2="176.16" stroke="#777" stroke-width="0.3"/>
<line x1="325.90" y1="199.80" x2="325.90" y2="200.70" stroke="#777" stroke-width="0.3"/>
<text x="303.10" y="176.91" font-size="2.1" text-anchor="end" fill="#555" stroke="#555" stroke-width="0.095">0.6</text>
<text x="325.90" y="202.90" font-size="2.1" text-anchor="middle" fill="#555" stroke="#555" stroke-width="0.095">0.6</text>
<line x1="303.40" y1="168.28" x2="304.30" y2="168.28" stroke="#777" stroke-width="0.3"/>
<line x1="333.10" y1="199.80" x2="333.10" y2="200.70" stroke="#777" stroke-width="0.3"/>
<text x="303.10" y="169.03" font-size="2.1" text-anchor="end" fill="#555" stroke="#555" stroke-width="0.095">0.8</text>
<text x="333.10" y="202.90" font-size="2.1" text-anchor="middle" fill="#555" stroke="#555" stroke-width="0.095">0.8</text>
<line x1="303.40" y1="160.40" x2="304.30" y2="160.40" stroke="#777" stroke-width="0.3"/>
<line x1="340.30" y1="199.80" x2="340.30" y2="200.70" stroke="#777" stroke-width="0.3"/>
<text x="303.10" y="161.15" font-size="2.1" text-anchor="end" fill="#555" stroke="#555" stroke-width="0.095">1.0</text>
<text x="340.30" y="202.90" font-size="2.1" text-anchor="middle" fill="#555" stroke="#555" stroke-width="0.095">1.0</text>
<text x="322.30" y="205.40" font-size="2.35" text-anchor="middle" fill="#5a5a5a" stroke="#5a5a5a" stroke-width="0.106">1-Specificity (FPR)</text>
<text x="298.70" y="180.10" font-size="2.35" text-anchor="middle" fill="#7a7a7a" transform="rotate(-90 298.7 180.1)" stroke="#7a7a7a" stroke-width="0.106">Sensitivity (TPR)</text>
<text x="339.70" y="194.20" font-size="1.85" text-anchor="end" fill="#555" stroke="#555" stroke-width="0.083">KPNA3</text>
<text x="339.70" y="196.30" font-size="1.85" text-anchor="end" fill="#555" stroke="#555" stroke-width="0.083">AUC 0.635</text>
<text x="339.70" y="198.90" font-size="1.85" text-anchor="end" fill="#555" stroke="#555" stroke-width="0.083">CI: 0.560-0.710</text>
<rect x="360.30" y="160.40" width="36.50" height="39.40" fill="white" stroke="#9a9a9a" stroke-width="0.75"/>
<line x1="360.30" y1="199.80" x2="396.80" y2="160.40" stroke="#d0d4e0" stroke-width="0.45"/>
<polyline points="360.30,199.80 370.01,199.80 371.25,194.80 372.71,191.41 374.72,186.09 376.73,180.69 378.70,174.70 381.40,169.38 384.10,165.99 387.38,161.98 391.40,160.60 396.80,160.40" fill="none" stroke="#62749e" stroke-width="0.68" stroke-linejoin="round"/>
<line x1="359.40" y1="199.80" x2="360.30" y2="199.80" stroke="#777" stroke-width="0.3"/>
<line x1="360.30" y1="199.80" x2="360.30" y2="200.70" stroke="#777" stroke-width="0.3"/>
<text x="359.10" y="200.55" font-size="2.1" text-anchor="end" fill="#555" stroke="#555" stroke-width="0.095">0.0</text>
<text x="360.30" y="202.90" font-size="2.1" text-anchor="middle" fill="#555" stroke="#555" stroke-width="0.095">0.0</text>
<line x1="359.40" y1="191.92" x2="360.30" y2="191.92" stroke="#777" stroke-width="0.3"/>
<line x1="367.60" y1="199.80" x2="367.60" y2="200.70" stroke="#777" stroke-width="0.3"/>
<text x="359.10" y="192.67" font-size="2.1" text-anchor="end" fill="#555" stroke="#555" stroke-width="0.095">0.2</text>
<text x="367.60" y="202.90" font-size="2.1" text-anchor="middle" fill="#555" stroke="#555" stroke-width="0.095">0.2</text>
<line x1="359.40" y1="184.04" x2="360.30" y2="184.04" stroke="#777" stroke-width="0.3"/>
<line x1="374.90" y1="199.80" x2="374.90" y2="200.70" stroke="#777" stroke-width="0.3"/>
<text x="359.10" y="184.79" font-size="2.1" text-anchor="end" fill="#555" stroke="#555" stroke-width="0.095">0.4</text>
<text x="374.90" y="202.90" font-size="2.1" text-anchor="middle" fill="#555" stroke="#555" stroke-width="0.095">0.4</text>
<line x1="359.40" y1="176.16" x2="360.30" y2="176.16" stroke="#777" stroke-width="0.3"/>
<line x1="382.20" y1="199.80" x2="382.20" y2="200.70" stroke="#777" stroke-width="0.3"/>
<text x="359.10" y="176.91" font-size="2.1" text-anchor="end" fill="#555" stroke="#555" stroke-width="0.095">0.6</text>
<text x="382.20" y="202.90" font-size="2.1" text-anchor="middle" fill="#555" stroke="#555" stroke-width="0.095">0.6</text>
<line x1="359.40" y1="168.28" x2="360.30" y2="168.28" stroke="#777" stroke-width="0.3"/>
<line x1="389.50" y1="199.80" x2="389.50" y2="200.70" stroke="#777" stroke-width="0.3"/>
<text x="359.10" y="169.03" font-size="2.1" text-anchor="end" fill="#555" stroke="#555" stroke-width="0.095">0.8</text>
<text x="389.50" y="202.90" font-size="2.1" text-anchor="middle" fill="#555" stroke="#555" stroke-width="0.095">0.8</text>
<line x1="359.40" y1="160.40" x2="360.30" y2="160.40" stroke="#777" stroke-width="0.3"/>
<line x1="396.80" y1="199.80" x2="396.80" y2="200.70" stroke="#777" stroke-width="0.3"/>
<text x="359.10" y="161.15" font-size="2.1" text-anchor="end" fill="#555" stroke="#555" stroke-width="0.095">1.0</text>
<text x="396.80" y="202.90" font-size="2.1" text-anchor="middle" fill="#555" stroke="#555" stroke-width="0.095">1.0</text>
<text x="378.55" y="205.40" font-size="2.35" text-anchor="middle" fill="#5a5a5a" stroke="#5a5a5a" stroke-width="0.106">1-Specificity (FPR)</text>
<text x="354.70" y="180.10" font-size="2.35" text-anchor="middle" fill="#7a7a7a" transform="rotate(-90 354.7 180.1)" stroke="#7a7a7a" stroke-width="0.106">Sensitivity (TPR)</text>
<text x="396.20" y="194.20" font-size="1.85" text-anchor="end" fill="#555" stroke="#555" stroke-width="0.083">KPNA4</text>
<text x="396.20" y="196.30" font-size="1.85" text-anchor="end" fill="#555" stroke="#555" stroke-width="0.083">AUC 0.635</text>
<text x="396.20" y="198.90" font-size="1.85" text-anchor="end" fill="#555" stroke="#555" stroke-width="0.083">CI: 0.560-0.710</text>
<rect x="192.50" y="214.70" width="36.50" height="38.80" fill="white" stroke="#9a9a9a" stroke-width="0.75"/>
<line x1="191.60" y1="251.50" x2="192.50" y2="251.50" stroke="#777" stroke-width="0.3"/>
<text x="191.30" y="252.25" font-size="2.1" text-anchor="end" fill="#555" stroke="#555" stroke-width="0.095">0.0</text>
<line x1="191.60" y1="244.44" x2="192.50" y2="244.44" stroke="#777" stroke-width="0.3"/>
<text x="191.30" y="245.19" font-size="2.1" text-anchor="end" fill="#555" stroke="#555" stroke-width="0.095">0.2</text>
<line x1="191.60" y1="237.38" x2="192.50" y2="237.38" stroke="#777" stroke-width="0.3"/>
<text x="191.30" y="238.13" font-size="2.1" text-anchor="end" fill="#555" stroke="#555" stroke-width="0.095">0.4</text>
<line x1="191.60" y1="230.32" x2="192.50" y2="230.32" stroke="#777" stroke-width="0.3"/>
<text x="191.30" y="231.07" font-size="2.1" text-anchor="end" fill="#555" stroke="#555" stroke-width="0.095">0.6</text>
<line x1="191.60" y1="223.26" x2="192.50" y2="223.26" stroke="#777" stroke-width="0.3"/>
<text x="191.30" y="224.01" font-size="2.1" text-anchor="end" fill="#555" stroke="#555" stroke-width="0.095">0.8</text>
<line x1="191.60" y1="216.20" x2="192.50" y2="216.20" stroke="#777" stroke-width="0.3"/>
<text x="191.30" y="216.95" font-size="2.1" text-anchor="end" fill="#555" stroke="#555" stroke-width="0.095">1.0</text>
<line x1="193.70" y1="253.50" x2="193.70" y2="254.40" stroke="#777" stroke-width="0.3"/>
<text x="193.70" y="256.60" font-size="2.1" text-anchor="middle" fill="#555" stroke="#555" stroke-width="0.095">0</text>
<line x1="203.01" y1="253.50" x2="203.01" y2="254.40" stroke="#777" stroke-width="0.3"/>
<text x="203.01" y="256.60" font-size="2.1" text-anchor="middle" fill="#555" stroke="#555" stroke-width="0.095">2000</text>
<line x1="212.31" y1="253.50" x2="212.31" y2="254.40" stroke="#777" stroke-width="0.3"/>
<text x="212.31" y="256.60" font-size="2.1" text-anchor="middle" fill="#555" stroke="#555" stroke-width="0.095">4000</text>
<line x1="221.62" y1="253.50" x2="221.62" y2="254.40" stroke="#777" stroke-width="0.3"/>
<text x="221.62" y="256.60" font-size="2.1" text-anchor="middle" fill="#555" stroke="#555" stroke-width="0.095">6000</text>
<text x="210.75" y="259.20" font-size="2.4" text-anchor="middle" fill="#444" stroke="#444" stroke-width="0.108">Time</text>
<text x="186.90" y="234.10" font-size="2.3000000000000003" text-anchor="middle" fill="#707070" transform="rotate(-90 186.9 234.1)" stroke="#707070" stroke-width="0.104">Survival probability</text>
<polyline points="206.00,243.50 216.40,243.50 216.40,246.20 227.00,246.20" fill="none" stroke="#e24656" stroke-width="0.7" stroke-linejoin="round"/>
<line x1="207.20" y1="242.80" x2="207.20" y2="244.20" stroke="#e24656" stroke-width="0.3"/>
<line x1="208.70" y1="242.80" x2="208.70" y2="244.20" stroke="#e24656" stroke-width="0.3"/>
<line x1="210.20" y1="242.80" x2="210.20" y2="244.20" stroke="#e24656" stroke-width="0.3"/>
<line x1="211.70" y1="242.80" x2="211.70" y2="244.20" stroke="#e24656" stroke-width="0.3"/>
<line x1="213.20" y1="242.80" x2="213.20" y2="244.20" stroke="#e24656" stroke-width="0.3"/>
<line x1="214.70" y1="242.80" x2="214.70" y2="244.20" stroke="#e24656" stroke-width="0.3"/>
<line x1="217.60" y1="245.50" x2="217.60" y2="246.90" stroke="#e24656" stroke-width="0.3"/>
<line x1="219.10" y1="245.50" x2="219.10" y2="246.90" stroke="#e24656" stroke-width="0.3"/>
<line x1="220.60" y1="245.50" x2="220.60" y2="246.90" stroke="#e24656" stroke-width="0.3"/>
<line x1="222.10" y1="245.50" x2="222.10" y2="246.90" stroke="#e24656" stroke-width="0.3"/>
<line x1="223.60" y1="245.50" x2="223.60" y2="246.90" stroke="#e24656" stroke-width="0.3"/>
<line x1="225.10" y1="245.50" x2="225.10" y2="246.90" stroke="#e24656" stroke-width="0.3"/>
<polyline points="207.00,239.00 209.00,240.70 227.70,240.70" fill="none" stroke="#6a80b8" stroke-width="0.7" stroke-linejoin="round"/>
<line x1="210.20" y1="240.00" x2="210.20" y2="241.40" stroke="#6a80b8" stroke-width="0.3"/>
<line x1="211.70" y1="240.00" x2="211.70" y2="241.40" stroke="#6a80b8" stroke-width="0.3"/>
<line x1="213.20" y1="240.00" x2="213.20" y2="241.40" stroke="#6a80b8" stroke-width="0.3"/>
<line x1="214.70" y1="240.00" x2="214.70" y2="241.40" stroke="#6a80b8" stroke-width="0.3"/>
<line x1="216.20" y1="240.00" x2="216.20" y2="241.40" stroke="#6a80b8" stroke-width="0.3"/>
<line x1="217.70" y1="240.00" x2="217.70" y2="241.40" stroke="#6a80b8" stroke-width="0.3"/>
<line x1="219.20" y1="240.00" x2="219.20" y2="241.40" stroke="#6a80b8" stroke-width="0.3"/>
<line x1="220.70" y1="240.00" x2="220.70" y2="241.40" stroke="#6a80b8" stroke-width="0.3"/>
<line x1="222.20" y1="240.00" x2="222.20" y2="241.40" stroke="#6a80b8" stroke-width="0.3"/>
<line x1="223.70" y1="240.00" x2="223.70" y2="241.40" stroke="#6a80b8" stroke-width="0.3"/>
<line x1="225.20" y1="240.00" x2="225.20" y2="241.40" stroke="#6a80b8" stroke-width="0.3"/>
<line x1="226.70" y1="240.00" x2="226.70" y2="241.40" stroke="#6a80b8" stroke-width="0.3"/>
<polyline points="193.00,216.00 195.50,223.00 197.50,229.50 200.00,234.00 202.00,236.50 204.00,239.50 206.00,243.50" fill="none" stroke="#b83a56" stroke-width="0.8" stroke-linejoin="round"/>
<polyline points="193.00,216.00 195.50,222.50 197.50,229.00 200.00,233.50 202.00,235.50 205.00,238.00 207.00,239.00" fill="none" stroke="#3a2a48" stroke-width="0.9" stroke-linejoin="round"/>
<text x="226.20" y="226.30" font-size="4.6000000000000005" text-anchor="end" fill="#1a1a1a" stroke="#1a1a1a" stroke-width="0.1">KPNA1</text>
<line x1="220.00" y1="216.70" x2="221.60" y2="216.70" stroke="#e24656" stroke-width="0.45"/>
<text x="222.20" y="217.30" font-size="1.7" text-anchor="start" fill="#777" stroke="#777" stroke-width="0.076">Low</text>
<line x1="224.40" y1="216.70" x2="225.60" y2="216.70" stroke="#e24656" stroke-width="0.45"/>
<text x="228.00" y="217.30" font-size="1.7" text-anchor="end" fill="#777" stroke="#777" stroke-width="0.076">x</text>
<line x1="220.00" y1="219.30" x2="221.60" y2="219.30" stroke="#6a80b8" stroke-width="0.45"/>
<text x="222.20" y="219.90" font-size="1.7" text-anchor="start" fill="#777" stroke="#777" stroke-width="0.076">High</text>
<line x1="224.40" y1="219.30" x2="225.60" y2="219.30" stroke="#6a80b8" stroke-width="0.45"/>
<text x="228.00" y="219.90" font-size="1.7" text-anchor="end" fill="#777" stroke="#777" stroke-width="0.076">x</text>
<text x="194.10" y="248.90" font-size="1.75" text-anchor="start" fill="#555" stroke="#555" stroke-width="0.079">HR = 1.35 (0.91-1.98)</text>
<text x="194.10" y="251.30" font-size="1.75" text-anchor="start" fill="#555" stroke="#555" stroke-width="0.079">P = 0.136</text>
<rect x="248.50" y="214.70" width="35.60" height="38.80" fill="white" stroke="#9a9a9a" stroke-width="0.75"/>
<line x1="247.60" y1="251.50" x2="248.50" y2="251.50" stroke="#777" stroke-width="0.3"/>
<text x="247.30" y="252.25" font-size="2.1" text-anchor="end" fill="#555" stroke="#555" stroke-width="0.095">0.0</text>
<line x1="247.60" y1="244.44" x2="248.50" y2="244.44" stroke="#777" stroke-width="0.3"/>
<text x="247.30" y="245.19" font-size="2.1" text-anchor="end" fill="#555" stroke="#555" stroke-width="0.095">0.2</text>
<line x1="247.60" y1="237.38" x2="248.50" y2="237.38" stroke="#777" stroke-width="0.3"/>
<text x="247.30" y="238.13" font-size="2.1" text-anchor="end" fill="#555" stroke="#555" stroke-width="0.095">0.4</text>
<line x1="247.60" y1="230.32" x2="248.50" y2="230.32" stroke="#777" stroke-width="0.3"/>
<text x="247.30" y="231.07" font-size="2.1" text-anchor="end" fill="#555" stroke="#555" stroke-width="0.095">0.6</text>
<line x1="247.60" y1="223.26" x2="248.50" y2="223.26" stroke="#777" stroke-width="0.3"/>
<text x="247.30" y="224.01" font-size="2.1" text-anchor="end" fill="#555" stroke="#555" stroke-width="0.095">0.8</text>
<line x1="247.60" y1="216.20" x2="248.50" y2="216.20" stroke="#777" stroke-width="0.3"/>
<text x="247.30" y="216.95" font-size="2.1" text-anchor="end" fill="#555" stroke="#555" stroke-width="0.095">1.0</text>
<line x1="249.70" y1="253.50" x2="249.70" y2="254.40" stroke="#777" stroke-width="0.3"/>
<text x="249.70" y="256.60" font-size="2.1" text-anchor="middle" fill="#555" stroke="#555" stroke-width="0.095">0</text>
<line x1="258.76" y1="253.50" x2="258.76" y2="254.40" stroke="#777" stroke-width="0.3"/>
<text x="258.76" y="256.60" font-size="2.1" text-anchor="middle" fill="#555" stroke="#555" stroke-width="0.095">2000</text>
<line x1="267.81" y1="253.50" x2="267.81" y2="254.40" stroke="#777" stroke-width="0.3"/>
<text x="267.81" y="256.60" font-size="2.1" text-anchor="middle" fill="#555" stroke="#555" stroke-width="0.095">4000</text>
<line x1="276.87" y1="253.50" x2="276.87" y2="254.40" stroke="#777" stroke-width="0.3"/>
<text x="276.87" y="256.60" font-size="2.1" text-anchor="middle" fill="#555" stroke="#555" stroke-width="0.095">6000</text>
<text x="266.30" y="259.20" font-size="2.4" text-anchor="middle" fill="#444" stroke="#444" stroke-width="0.108">Time</text>
<text x="242.90" y="234.10" font-size="2.3000000000000003" text-anchor="middle" fill="#707070" transform="rotate(-90 242.9 234.1)" stroke="#707070" stroke-width="0.104">Survival probability</text>
<polyline points="257.50,239.50 262.00,242.70 265.20,245.80 272.80,245.80 272.80,249.00 283.00,249.00" fill="none" stroke="#e24656" stroke-width="0.7" stroke-linejoin="round"/>
<line x1="266.40" y1="245.10" x2="266.40" y2="246.50" stroke="#e24656" stroke-width="0.3"/>
<line x1="267.90" y1="245.10" x2="267.90" y2="246.50" stroke="#e24656" stroke-width="0.3"/>
<line x1="269.40" y1="245.10" x2="269.40" y2="246.50" stroke="#e24656" stroke-width="0.3"/>
<line x1="270.90" y1="245.10" x2="270.90" y2="246.50" stroke="#e24656" stroke-width="0.3"/>
<line x1="274.00" y1="248.30" x2="274.00" y2="249.70" stroke="#e24656" stroke-width="0.3"/>
<line x1="275.50" y1="248.30" x2="275.50" y2="249.70" stroke="#e24656" stroke-width="0.3"/>
<line x1="277.00" y1="248.30" x2="277.00" y2="249.70" stroke="#e24656" stroke-width="0.3"/>
<line x1="278.50" y1="248.30" x2="278.50" y2="249.70" stroke="#e24656" stroke-width="0.3"/>
<line x1="280.00" y1="248.30" x2="280.00" y2="249.70" stroke="#e24656" stroke-width="0.3"/>
<line x1="281.50" y1="248.30" x2="281.50" y2="249.70" stroke="#e24656" stroke-width="0.3"/>
<polyline points="262.60,238.20 265.20,239.10 283.00,239.10" fill="none" stroke="#6a80b8" stroke-width="0.7" stroke-linejoin="round"/>
<line x1="266.40" y1="238.40" x2="266.40" y2="239.80" stroke="#6a80b8" stroke-width="0.3"/>
<line x1="267.90" y1="238.40" x2="267.90" y2="239.80" stroke="#6a80b8" stroke-width="0.3"/>
<line x1="269.40" y1="238.40" x2="269.40" y2="239.80" stroke="#6a80b8" stroke-width="0.3"/>
<line x1="270.90" y1="238.40" x2="270.90" y2="239.80" stroke="#6a80b8" stroke-width="0.3"/>
<line x1="272.40" y1="238.40" x2="272.40" y2="239.80" stroke="#6a80b8" stroke-width="0.3"/>
<line x1="273.90" y1="238.40" x2="273.90" y2="239.80" stroke="#6a80b8" stroke-width="0.3"/>
<line x1="275.40" y1="238.40" x2="275.40" y2="239.80" stroke="#6a80b8" stroke-width="0.3"/>
<line x1="276.90" y1="238.40" x2="276.90" y2="239.80" stroke="#6a80b8" stroke-width="0.3"/>
<line x1="278.40" y1="238.40" x2="278.40" y2="239.80" stroke="#6a80b8" stroke-width="0.3"/>
<line x1="279.90" y1="238.40" x2="279.90" y2="239.80" stroke="#6a80b8" stroke-width="0.3"/>
<line x1="281.40" y1="238.40" x2="281.40" y2="239.80" stroke="#6a80b8" stroke-width="0.3"/>
<polyline points="249.00,216.00 251.70,227.30 254.90,237.50 257.50,239.50" fill="none" stroke="#c41e3c" stroke-width="0.9" stroke-linejoin="round"/>
<polyline points="249.00,216.00 253.70,228.60 258.10,235.60 262.60,238.20" fill="none" stroke="#2c3458" stroke-width="0.9" stroke-linejoin="round"/>
<text x="281.30" y="226.30" font-size="4.6000000000000005" text-anchor="end" fill="#1a1a1a" stroke="#1a1a1a" stroke-width="0.1">KPNA2</text>
<line x1="275.10" y1="216.70" x2="276.70" y2="216.70" stroke="#e24656" stroke-width="0.45"/>
<text x="277.30" y="217.30" font-size="1.7" text-anchor="start" fill="#777" stroke="#777" stroke-width="0.076">Low</text>
<line x1="279.50" y1="216.70" x2="280.70" y2="216.70" stroke="#e24656" stroke-width="0.45"/>
<text x="283.10" y="217.30" font-size="1.7" text-anchor="end" fill="#777" stroke="#777" stroke-width="0.076">x</text>
<line x1="275.10" y1="219.30" x2="276.70" y2="219.30" stroke="#6a80b8" stroke-width="0.45"/>
<text x="277.30" y="219.90" font-size="1.7" text-anchor="start" fill="#777" stroke="#777" stroke-width="0.076">High</text>
<line x1="279.50" y1="219.30" x2="280.70" y2="219.30" stroke="#6a80b8" stroke-width="0.45"/>
<text x="283.10" y="219.90" font-size="1.7" text-anchor="end" fill="#777" stroke="#777" stroke-width="0.076">x</text>
<text x="250.10" y="248.90" font-size="1.75" text-anchor="start" fill="#555" stroke="#555" stroke-width="0.079">HR = 1.35 (0.91-1.98)</text>
<text x="250.10" y="251.30" font-size="1.75" text-anchor="start" fill="#555" stroke="#555" stroke-width="0.079">P = 0.136</text>
<rect x="304.80" y="214.70" width="36.20" height="38.80" fill="white" stroke="#9a9a9a" stroke-width="0.75"/>
<line x1="303.90" y1="251.50" x2="304.80" y2="251.50" stroke="#777" stroke-width="0.3"/>
<text x="303.60" y="252.25" font-size="2.1" text-anchor="end" fill="#555" stroke="#555" stroke-width="0.095">0.0</text>
<line x1="303.90" y1="244.44" x2="304.80" y2="244.44" stroke="#777" stroke-width="0.3"/>
<text x="303.60" y="245.19" font-size="2.1" text-anchor="end" fill="#555" stroke="#555" stroke-width="0.095">0.2</text>
<line x1="303.90" y1="237.38" x2="304.80" y2="237.38" stroke="#777" stroke-width="0.3"/>
<text x="303.60" y="238.13" font-size="2.1" text-anchor="end" fill="#555" stroke="#555" stroke-width="0.095">0.4</text>
<line x1="303.90" y1="230.32" x2="304.80" y2="230.32" stroke="#777" stroke-width="0.3"/>
<text x="303.60" y="231.07" font-size="2.1" text-anchor="end" fill="#555" stroke="#555" stroke-width="0.095">0.6</text>
<line x1="303.90" y1="223.26" x2="304.80" y2="223.26" stroke="#777" stroke-width="0.3"/>
<text x="303.60" y="224.01" font-size="2.1" text-anchor="end" fill="#555" stroke="#555" stroke-width="0.095">0.8</text>
<line x1="303.90" y1="216.20" x2="304.80" y2="216.20" stroke="#777" stroke-width="0.3"/>
<text x="303.60" y="216.95" font-size="2.1" text-anchor="end" fill="#555" stroke="#555" stroke-width="0.095">1.0</text>
<line x1="306.00" y1="253.50" x2="306.00" y2="254.40" stroke="#777" stroke-width="0.3"/>
<text x="306.00" y="256.60" font-size="2.1" text-anchor="middle" fill="#555" stroke="#555" stroke-width="0.095">0</text>
<line x1="315.22" y1="253.50" x2="315.22" y2="254.40" stroke="#777" stroke-width="0.3"/>
<text x="315.22" y="256.60" font-size="2.1" text-anchor="middle" fill="#555" stroke="#555" stroke-width="0.095">2000</text>
<line x1="324.44" y1="253.50" x2="324.44" y2="254.40" stroke="#777" stroke-width="0.3"/>
<text x="324.44" y="256.60" font-size="2.1" text-anchor="middle" fill="#555" stroke="#555" stroke-width="0.095">4000</text>
<line x1="333.67" y1="253.50" x2="333.67" y2="254.40" stroke="#777" stroke-width="0.3"/>
<text x="333.67" y="256.60" font-size="2.1" text-anchor="middle" fill="#555" stroke="#555" stroke-width="0.095">6000</text>
<text x="322.90" y="259.20" font-size="2.4" text-anchor="middle" fill="#444" stroke="#444" stroke-width="0.108">Time</text>
<text x="299.20" y="234.10" font-size="2.3000000000000003" text-anchor="middle" fill="#707070" transform="rotate(-90 299.2 234.1)" stroke="#707070" stroke-width="0.104">Survival probability</text>
<polyline points="320.50,240.70 321.20,243.90 339.70,243.90" fill="none" stroke="#e24656" stroke-width="0.7" stroke-linejoin="round"/>
<line x1="322.40" y1="243.20" x2="322.40" y2="244.60" stroke="#e24656" stroke-width="0.3"/>
<line x1="323.90" y1="243.20" x2="323.90" y2="244.60" stroke="#e24656" stroke-width="0.3"/>
<line x1="325.40" y1="243.20" x2="325.40" y2="244.60" stroke="#e24656" stroke-width="0.3"/>
<line x1="326.90" y1="243.20" x2="326.90" y2="244.60" stroke="#e24656" stroke-width="0.3"/>
<line x1="328.40" y1="243.20" x2="328.40" y2="244.60" stroke="#e24656" stroke-width="0.3"/>
<line x1="329.90" y1="243.20" x2="329.90" y2="244.60" stroke="#e24656" stroke-width="0.3"/>
<line x1="331.40" y1="243.20" x2="331.40" y2="244.60" stroke="#e24656" stroke-width="0.3"/>
<line x1="332.90" y1="243.20" x2="332.90" y2="244.60" stroke="#e24656" stroke-width="0.3"/>
<line x1="334.40" y1="243.20" x2="334.40" y2="244.60" stroke="#e24656" stroke-width="0.3"/>
<line x1="335.90" y1="243.20" x2="335.90" y2="244.60" stroke="#e24656" stroke-width="0.3"/>
<line x1="337.40" y1="243.20" x2="337.40" y2="244.60" stroke="#e24656" stroke-width="0.3"/>
<line x1="338.90" y1="243.20" x2="338.90" y2="244.60" stroke="#e24656" stroke-width="0.3"/>
<polyline points="320.50,240.70 321.00,241.40 329.50,241.40" fill="none" stroke="#6a80b8" stroke-width="0.7" stroke-linejoin="round"/>
<line x1="322.20" y1="240.70" x2="322.20" y2="242.10" stroke="#6a80b8" stroke-width="0.3"/>
<line x1="323.70" y1="240.70" x2="323.70" y2="242.10" stroke="#6a80b8" stroke-width="0.3"/>
<line x1="325.20" y1="240.70" x2="325.20" y2="242.10" stroke="#6a80b8" stroke-width="0.3"/>
<line x1="326.70" y1="240.70" x2="326.70" y2="242.10" stroke="#6a80b8" stroke-width="0.3"/>
<line x1="328.20" y1="240.70" x2="328.20" y2="242.10" stroke="#6a80b8" stroke-width="0.3"/>
<polyline points="306.10,216.50 310.00,226.50 313.50,236.30 317.30,238.80 320.50,240.70" fill="none" stroke="#7a2040" stroke-width="1.1" stroke-linejoin="round"/>
<text x="338.20" y="226.30" font-size="4.6000000000000005" text-anchor="end" fill="#1a1a1a" stroke="#1a1a1a" stroke-width="0.1">KPNA3</text>
<line x1="332.00" y1="216.70" x2="333.60" y2="216.70" stroke="#e24656" stroke-width="0.45"/>
<text x="334.20" y="217.30" font-size="1.7" text-anchor="start" fill="#777" stroke="#777" stroke-width="0.076">Low</text>
<line x1="336.40" y1="216.70" x2="337.60" y2="216.70" stroke="#e24656" stroke-width="0.45"/>
<text x="340.00" y="217.30" font-size="1.7" text-anchor="end" fill="#777" stroke="#777" stroke-width="0.076">x</text>
<line x1="332.00" y1="219.30" x2="333.60" y2="219.30" stroke="#6a80b8" stroke-width="0.45"/>
<text x="334.20" y="219.90" font-size="1.7" text-anchor="start" fill="#777" stroke="#777" stroke-width="0.076">High</text>
<line x1="336.40" y1="219.30" x2="337.60" y2="219.30" stroke="#6a80b8" stroke-width="0.45"/>
<text x="340.00" y="219.90" font-size="1.7" text-anchor="end" fill="#777" stroke="#777" stroke-width="0.076">x</text>
<text x="306.40" y="248.90" font-size="1.75" text-anchor="start" fill="#555" stroke="#555" stroke-width="0.079">HR = 1.35 (0.91-1.98)</text>
<text x="306.40" y="251.30" font-size="1.75" text-anchor="start" fill="#555" stroke="#555" stroke-width="0.079">P = 0.136</text>
<rect x="360.50" y="214.70" width="36.40" height="38.80" fill="white" stroke="#9a9a9a" stroke-width="0.75"/>
<line x1="359.60" y1="251.50" x2="360.50" y2="251.50" stroke="#777" stroke-width="0.3"/>
<text x="359.30" y="252.25" font-size="2.1" text-anchor="end" fill="#555" stroke="#555" stroke-width="0.095">0.0</text>
<line x1="359.60" y1="244.44" x2="360.50" y2="244.44" stroke="#777" stroke-width="0.3"/>
<text x="359.30" y="245.19" font-size="2.1" text-anchor="end" fill="#555" stroke="#555" stroke-width="0.095">0.2</text>
<line x1="359.60" y1="237.38" x2="360.50" y2="237.38" stroke="#777" stroke-width="0.3"/>
<text x="359.30" y="238.13" font-size="2.1" text-anchor="end" fill="#555" stroke="#555" stroke-width="0.095">0.4</text>
<line x1="359.60" y1="230.32" x2="360.50" y2="230.32" stroke="#777" stroke-width="0.3"/>
<text x="359.30" y="231.07" font-size="2.1" text-anchor="end" fill="#555" stroke="#555" stroke-width="0.095">0.6</text>
<line x1="359.60" y1="223.26" x2="360.50" y2="223.26" stroke="#777" stroke-width="0.3"/>
<text x="359.30" y="224.01" font-size="2.1" text-anchor="end" fill="#555" stroke="#555" stroke-width="0.095">0.8</text>
<line x1="359.60" y1="216.20" x2="360.50" y2="216.20" stroke="#777" stroke-width="0.3"/>
<text x="359.30" y="216.95" font-size="2.1" text-anchor="end" fill="#555" stroke="#555" stroke-width="0.095">1.0</text>
<line x1="361.70" y1="253.50" x2="361.70" y2="254.40" stroke="#777" stroke-width="0.3"/>
<text x="361.70" y="256.60" font-size="2.1" text-anchor="middle" fill="#555" stroke="#555" stroke-width="0.095">0</text>
<line x1="370.98" y1="253.50" x2="370.98" y2="254.40" stroke="#777" stroke-width="0.3"/>
<text x="370.98" y="256.60" font-size="2.1" text-anchor="middle" fill="#555" stroke="#555" stroke-width="0.095">2000</text>
<line x1="380.26" y1="253.50" x2="380.26" y2="254.40" stroke="#777" stroke-width="0.3"/>
<text x="380.26" y="256.60" font-size="2.1" text-anchor="middle" fill="#555" stroke="#555" stroke-width="0.095">4000</text>
<line x1="389.53" y1="253.50" x2="389.53" y2="254.40" stroke="#777" stroke-width="0.3"/>
<text x="389.53" y="256.60" font-size="2.1" text-anchor="middle" fill="#555" stroke="#555" stroke-width="0.095">6000</text>
<text x="378.70" y="259.20" font-size="2.4" text-anchor="middle" fill="#444" stroke="#444" stroke-width="0.108">Time</text>
<text x="354.90" y="234.10" font-size="2.3000000000000003" text-anchor="middle" fill="#707070" transform="rotate(-90 354.9 234.1)" stroke="#707070" stroke-width="0.104">Survival probability</text>
<polyline points="373.20,241.40 374.50,242.70 375.80,244.60 377.10,244.60 377.10,246.50 383.50,246.50 383.50,252.50" fill="none" stroke="#e24656" stroke-width="0.7" stroke-linejoin="round"/>
<line x1="378.30" y1="245.80" x2="378.30" y2="247.20" stroke="#e24656" stroke-width="0.3"/>
<line x1="379.80" y1="245.80" x2="379.80" y2="247.20" stroke="#e24656" stroke-width="0.3"/>
<line x1="381.30" y1="245.80" x2="381.30" y2="247.20" stroke="#e24656" stroke-width="0.3"/>
<line x1="382.80" y1="245.80" x2="382.80" y2="247.20" stroke="#e24656" stroke-width="0.3"/>
<polyline points="378.30,240.10 396.20,240.10" fill="none" stroke="#6a80b8" stroke-width="0.7" stroke-linejoin="round"/>
<line x1="379.50" y1="239.40" x2="379.50" y2="240.80" stroke="#6a80b8" stroke-width="0.3"/>
<line x1="381.00" y1="239.40" x2="381.00" y2="240.80" stroke="#6a80b8" stroke-width="0.3"/>
<line x1="382.50" y1="239.40" x2="382.50" y2="240.80" stroke="#6a80b8" stroke-width="0.3"/>
<line x1="384.00" y1="239.40" x2="384.00" y2="240.80" stroke="#6a80b8" stroke-width="0.3"/>
<line x1="385.50" y1="239.40" x2="385.50" y2="240.80" stroke="#6a80b8" stroke-width="0.3"/>
<line x1="387.00" y1="239.40" x2="387.00" y2="240.80" stroke="#6a80b8" stroke-width="0.3"/>
<line x1="388.50" y1="239.40" x2="388.50" y2="240.80" stroke="#6a80b8" stroke-width="0.3"/>
<line x1="390.00" y1="239.40" x2="390.00" y2="240.80" stroke="#6a80b8" stroke-width="0.3"/>
<line x1="391.50" y1="239.40" x2="391.50" y2="240.80" stroke="#6a80b8" stroke-width="0.3"/>
<line x1="393.00" y1="239.40" x2="393.00" y2="240.80" stroke="#6a80b8" stroke-width="0.3"/>
<line x1="394.50" y1="239.40" x2="394.50" y2="240.80" stroke="#6a80b8" stroke-width="0.3"/>
<polyline points="368.80,234.40 370.00,238.80 372.00,239.50 373.20,241.40" fill="none" stroke="#c41e3c" stroke-width="0.8" stroke-linejoin="round"/>
<polyline points="368.80,234.40 371.30,237.50 375.20,239.50 378.30,240.10" fill="none" stroke="#2c3458" stroke-width="0.8" stroke-linejoin="round"/>
<polyline points="361.70,216.50 365.00,225.00 368.80,234.40" fill="none" stroke="#4a2034" stroke-width="1.1" stroke-linejoin="round"/>
<text x="394.10" y="226.30" font-size="4.6000000000000005" text-anchor="end" fill="#1a1a1a" stroke="#1a1a1a" stroke-width="0.1">KPNA4</text>
<line x1="387.90" y1="216.70" x2="389.50" y2="216.70" stroke="#e24656" stroke-width="0.45"/>
<text x="390.10" y="217.30" font-size="1.7" text-anchor="start" fill="#777" stroke="#777" stroke-width="0.076">Low</text>
<line x1="392.30" y1="216.70" x2="393.50" y2="216.70" stroke="#e24656" stroke-width="0.45"/>
<text x="395.90" y="217.30" font-size="1.7" text-anchor="end" fill="#777" stroke="#777" stroke-width="0.076">x</text>
<line x1="387.90" y1="219.30" x2="389.50" y2="219.30" stroke="#6a80b8" stroke-width="0.45"/>
<text x="390.10" y="219.90" font-size="1.7" text-anchor="start" fill="#777" stroke="#777" stroke-width="0.076">High</text>
<line x1="392.30" y1="219.30" x2="393.50" y2="219.30" stroke="#6a80b8" stroke-width="0.45"/>
<text x="395.90" y="219.90" font-size="1.7" text-anchor="end" fill="#777" stroke="#777" stroke-width="0.076">x</text>
<text x="362.10" y="248.90" font-size="1.75" text-anchor="start" fill="#555" stroke="#555" stroke-width="0.079">HR = 1.35 (0.91-1.98)</text>
<text x="362.10" y="251.30" font-size="1.75" text-anchor="start" fill="#555" stroke="#555" stroke-width="0.079">P = 0.136</text>
<text x="6.10" y="274.60" font-size="6.9" text-anchor="start" font-weight="bold" fill="#111" stroke="#111" stroke-width="0.28">H</text>
<text x="143.80" y="274.60" font-size="6.9" text-anchor="start" font-weight="bold" fill="#111" stroke="#111" stroke-width="0.28">I</text>
<text x="277.80" y="274.60" font-size="6.9" text-anchor="start" font-weight="bold" fill="#111" stroke="#111" stroke-width="0.28">J</text>
<rect x="16.60" y="276.00" width="41.90" height="44.90" fill="white" stroke="#9a9a9a" stroke-width="0.75"/>
<line x1="16.60" y1="320.90" x2="58.50" y2="276.00" stroke="#d0d4e0" stroke-width="0.45"/>
<polyline points="16.60,320.90 17.31,320.90 18.82,306.98 21.92,298.63 24.23,296.34 27.24,291.04 30.22,286.42 33.36,281.12 37.13,278.83 40.15,276.22 58.50,276.00" fill="none" stroke="#62749e" stroke-width="0.68" stroke-linejoin="round"/>
<line x1="15.70" y1="320.90" x2="16.60" y2="320.90" stroke="#777" stroke-width="0.3"/>
<line x1="16.60" y1="320.90" x2="16.60" y2="321.80" stroke="#777" stroke-width="0.3"/>
<text x="15.40" y="321.65" font-size="2.4" text-anchor="end" fill="#555" stroke="#555" stroke-width="0.108">0.0</text>
<text x="16.60" y="324.30" font-size="2.4" text-anchor="middle" fill="#555" stroke="#555" stroke-width="0.108">0.0</text>
<line x1="15.70" y1="311.92" x2="16.60" y2="311.92" stroke="#777" stroke-width="0.3"/>
<line x1="24.98" y1="320.90" x2="24.98" y2="321.80" stroke="#777" stroke-width="0.3"/>
<text x="15.40" y="312.67" font-size="2.4" text-anchor="end" fill="#555" stroke="#555" stroke-width="0.108">0.2</text>
<text x="24.98" y="324.30" font-size="2.4" text-anchor="middle" fill="#555" stroke="#555" stroke-width="0.108">0.2</text>
<line x1="15.70" y1="302.94" x2="16.60" y2="302.94" stroke="#777" stroke-width="0.3"/>
<line x1="33.36" y1="320.90" x2="33.36" y2="321.80" stroke="#777" stroke-width="0.3"/>
<text x="15.40" y="303.69" font-size="2.4" text-anchor="end" fill="#555" stroke="#555" stroke-width="0.108">0.4</text>
<text x="33.36" y="324.30" font-size="2.4" text-anchor="middle" fill="#555" stroke="#555" stroke-width="0.108">0.4</text>
<line x1="15.70" y1="293.96" x2="16.60" y2="293.96" stroke="#777" stroke-width="0.3"/>
<line x1="41.74" y1="320.90" x2="41.74" y2="321.80" stroke="#777" stroke-width="0.3"/>
<text x="15.40" y="294.71" font-size="2.4" text-anchor="end" fill="#555" stroke="#555" stroke-width="0.108">0.6</text>
<text x="41.74" y="324.30" font-size="2.4" text-anchor="middle" fill="#555" stroke="#555" stroke-width="0.108">0.6</text>
<line x1="15.70" y1="284.98" x2="16.60" y2="284.98" stroke="#777" stroke-width="0.3"/>
<line x1="50.12" y1="320.90" x2="50.12" y2="321.80" stroke="#777" stroke-width="0.3"/>
<text x="15.40" y="285.73" font-size="2.4" text-anchor="end" fill="#555" stroke="#555" stroke-width="0.108">0.8</text>
<text x="50.12" y="324.30" font-size="2.4" text-anchor="middle" fill="#555" stroke="#555" stroke-width="0.108">0.8</text>
<line x1="15.70" y1="276.00" x2="16.60" y2="276.00" stroke="#777" stroke-width="0.3"/>
<line x1="58.50" y1="320.90" x2="58.50" y2="321.80" stroke="#777" stroke-width="0.3"/>
<text x="15.40" y="276.75" font-size="2.4" text-anchor="end" fill="#555" stroke="#555" stroke-width="0.108">1.0</text>
<text x="58.50" y="324.30" font-size="2.4" text-anchor="middle" fill="#555" stroke="#555" stroke-width="0.108">1.0</text>
<text x="37.55" y="327.40" font-size="2.7" text-anchor="middle" fill="#5a5a5a" stroke="#5a5a5a" stroke-width="0.121">1-Specificity (FPR)</text>
<text x="9.30" y="298.45" font-size="2.7" text-anchor="middle" fill="#7a7a7a" transform="rotate(-90 9.300000000000002 298.45)" stroke="#7a7a7a" stroke-width="0.121">Sensitivity (TPR)</text>
<text x="57.90" y="313.50" font-size="2.1" text-anchor="end" fill="#555" stroke="#555" stroke-width="0.095">KPNA5</text>
<text x="57.90" y="317.00" font-size="2.1" text-anchor="end" fill="#555" stroke="#555" stroke-width="0.095">AUC 0.635</text>
<text x="57.90" y="319.40" font-size="2.1" text-anchor="end" fill="#555" stroke="#555" stroke-width="0.095">CI: 0.560-0.710</text>
<rect x="152.70" y="276.00" width="42.00" height="44.90" fill="white" stroke="#9a9a9a" stroke-width="0.75"/>
<line x1="152.70" y1="320.90" x2="194.70" y2="276.00" stroke="#d0d4e0" stroke-width="0.45"/>
<polyline points="152.70,320.90 153.41,320.90 155.68,317.62 157.99,315.33 160.97,313.00 164.08,312.32 165.97,307.74 167.06,304.74 169.37,303.25 170.84,297.87 173.15,291.85 175.46,286.46 176.93,282.69 178.45,278.20 180.71,276.18 194.70,276.00" fill="none" stroke="#62749e" stroke-width="0.68" stroke-linejoin="round"/>
<line x1="151.80" y1="320.90" x2="152.70" y2="320.90" stroke="#777" stroke-width="0.3"/>
<line x1="152.70" y1="320.90" x2="152.70" y2="321.80" stroke="#777" stroke-width="0.3"/>
<text x="151.50" y="321.65" font-size="2.4" text-anchor="end" fill="#555" stroke="#555" stroke-width="0.108">0.0</text>
<text x="152.70" y="324.30" font-size="2.4" text-anchor="middle" fill="#555" stroke="#555" stroke-width="0.108">0.0</text>
<line x1="151.80" y1="311.92" x2="152.70" y2="311.92" stroke="#777" stroke-width="0.3"/>
<line x1="161.10" y1="320.90" x2="161.10" y2="321.80" stroke="#777" stroke-width="0.3"/>
<text x="151.50" y="312.67" font-size="2.4" text-anchor="end" fill="#555" stroke="#555" stroke-width="0.108">0.2</text>
<text x="161.10" y="324.30" font-size="2.4" text-anchor="middle" fill="#555" stroke="#555" stroke-width="0.108">0.2</text>
<line x1="151.80" y1="302.94" x2="152.70" y2="302.94" stroke="#777" stroke-width="0.3"/>
<line x1="169.50" y1="320.90" x2="169.50" y2="321.80" stroke="#777" stroke-width="0.3"/>
<text x="151.50" y="303.69" font-size="2.4" text-anchor="end" fill="#555" stroke="#555" stroke-width="0.108">0.4</text>
<text x="169.50" y="324.30" font-size="2.4" text-anchor="middle" fill="#555" stroke="#555" stroke-width="0.108">0.4</text>
<line x1="151.80" y1="293.96" x2="152.70" y2="293.96" stroke="#777" stroke-width="0.3"/>
<line x1="177.90" y1="320.90" x2="177.90" y2="321.80" stroke="#777" stroke-width="0.3"/>
<text x="151.50" y="294.71" font-size="2.4" text-anchor="end" fill="#555" stroke="#555" stroke-width="0.108">0.6</text>
<text x="177.90" y="324.30" font-size="2.4" text-anchor="middle" fill="#555" stroke="#555" stroke-width="0.108">0.6</text>
<line x1="151.80" y1="284.98" x2="152.70" y2="284.98" stroke="#777" stroke-width="0.3"/>
<line x1="186.30" y1="320.90" x2="186.30" y2="321.80" stroke="#777" stroke-width="0.3"/>
<text x="151.50" y="285.73" font-size="2.4" text-anchor="end" fill="#555" stroke="#555" stroke-width="0.108">0.8</text>
<text x="186.30" y="324.30" font-size="2.4" text-anchor="middle" fill="#555" stroke="#555" stroke-width="0.108">0.8</text>
<line x1="151.80" y1="276.00" x2="152.70" y2="276.00" stroke="#777" stroke-width="0.3"/>
<line x1="194.70" y1="320.90" x2="194.70" y2="321.80" stroke="#777" stroke-width="0.3"/>
<text x="151.50" y="276.75" font-size="2.4" text-anchor="end" fill="#555" stroke="#555" stroke-width="0.108">1.0</text>
<text x="194.70" y="324.30" font-size="2.4" text-anchor="middle" fill="#555" stroke="#555" stroke-width="0.108">1.0</text>
<text x="173.70" y="327.40" font-size="2.7" text-anchor="middle" fill="#5a5a5a" stroke="#5a5a5a" stroke-width="0.121">1-Specificity (FPR)</text>
<text x="145.40" y="298.45" font-size="2.7" text-anchor="middle" fill="#7a7a7a" transform="rotate(-90 145.4 298.45)" stroke="#7a7a7a" stroke-width="0.121">Sensitivity (TPR)</text>
<text x="194.10" y="313.50" font-size="2.1" text-anchor="end" fill="#555" stroke="#555" stroke-width="0.095">KPNA6</text>
<text x="194.10" y="317.00" font-size="2.1" text-anchor="end" fill="#555" stroke="#555" stroke-width="0.095">AUC 0.635</text>
<text x="194.10" y="319.40" font-size="2.1" text-anchor="end" fill="#555" stroke="#555" stroke-width="0.095">CI: 0.560-0.710</text>
<rect x="289.60" y="276.00" width="41.90" height="44.90" fill="white" stroke="#9a9a9a" stroke-width="0.75"/>
<line x1="289.60" y1="320.90" x2="331.50" y2="276.00" stroke="#d0d4e0" stroke-width="0.45"/>
<polyline points="289.60,320.90 290.31,320.90 291.11,313.00 291.82,304.74 293.41,300.16 294.92,294.86 297.23,288.08 299.40,283.50 302.55,280.49 305.52,278.87 307.83,277.39 309.33,276.18 331.50,276.00" fill="none" stroke="#62749e" stroke-width="0.68" stroke-linejoin="round"/>
<line x1="288.70" y1="320.90" x2="289.60" y2="320.90" stroke="#777" stroke-width="0.3"/>
<line x1="289.60" y1="320.90" x2="289.60" y2="321.80" stroke="#777" stroke-width="0.3"/>
<text x="288.40" y="321.65" font-size="2.4" text-anchor="end" fill="#555" stroke="#555" stroke-width="0.108">0.0</text>
<text x="289.60" y="324.30" font-size="2.4" text-anchor="middle" fill="#555" stroke="#555" stroke-width="0.108">0.0</text>
<line x1="288.70" y1="311.92" x2="289.60" y2="311.92" stroke="#777" stroke-width="0.3"/>
<line x1="297.98" y1="320.90" x2="297.98" y2="321.80" stroke="#777" stroke-width="0.3"/>
<text x="288.40" y="312.67" font-size="2.4" text-anchor="end" fill="#555" stroke="#555" stroke-width="0.108">0.2</text>
<text x="297.98" y="324.30" font-size="2.4" text-anchor="middle" fill="#555" stroke="#555" stroke-width="0.108">0.2</text>
<line x1="288.70" y1="302.94" x2="289.60" y2="302.94" stroke="#777" stroke-width="0.3"/>
<line x1="306.36" y1="320.90" x2="306.36" y2="321.80" stroke="#777" stroke-width="0.3"/>
<text x="288.40" y="303.69" font-size="2.4" text-anchor="end" fill="#555" stroke="#555" stroke-width="0.108">0.4</text>
<text x="306.36" y="324.30" font-size="2.4" text-anchor="middle" fill="#555" stroke="#555" stroke-width="0.108">0.4</text>
<line x1="288.70" y1="293.96" x2="289.60" y2="293.96" stroke="#777" stroke-width="0.3"/>
<line x1="314.74" y1="320.90" x2="314.74" y2="321.80" stroke="#777" stroke-width="0.3"/>
<text x="288.40" y="294.71" font-size="2.4" text-anchor="end" fill="#555" stroke="#555" stroke-width="0.108">0.6</text>
<text x="314.74" y="324.30" font-size="2.4" text-anchor="middle" fill="#555" stroke="#555" stroke-width="0.108">0.6</text>
<line x1="288.70" y1="284.98" x2="289.60" y2="284.98" stroke="#777" stroke-width="0.3"/>
<line x1="323.12" y1="320.90" x2="323.12" y2="321.80" stroke="#777" stroke-width="0.3"/>
<text x="288.40" y="285.73" font-size="2.4" text-anchor="end" fill="#555" stroke="#555" stroke-width="0.108">0.8</text>
<text x="323.12" y="324.30" font-size="2.4" text-anchor="middle" fill="#555" stroke="#555" stroke-width="0.108">0.8</text>
<line x1="288.70" y1="276.00" x2="289.60" y2="276.00" stroke="#777" stroke-width="0.3"/>
<line x1="331.50" y1="320.90" x2="331.50" y2="321.80" stroke="#777" stroke-width="0.3"/>
<text x="288.40" y="276.75" font-size="2.4" text-anchor="end" fill="#555" stroke="#555" stroke-width="0.108">1.0</text>
<text x="331.50" y="324.30" font-size="2.4" text-anchor="middle" fill="#555" stroke="#555" stroke-width="0.108">1.0</text>
<text x="310.55" y="327.40" font-size="2.7" text-anchor="middle" fill="#5a5a5a" stroke="#5a5a5a" stroke-width="0.121">1-Specificity (FPR)</text>
<text x="282.30" y="298.45" font-size="2.7" text-anchor="middle" fill="#7a7a7a" transform="rotate(-90 282.3 298.45)" stroke="#7a7a7a" stroke-width="0.121">Sensitivity (TPR)</text>
<text x="330.90" y="313.50" font-size="2.1" text-anchor="end" fill="#555" stroke="#555" stroke-width="0.095">KPNA7</text>
<text x="330.90" y="317.00" font-size="2.1" text-anchor="end" fill="#555" stroke="#555" stroke-width="0.095">AUC 0.635</text>
<text x="330.90" y="319.40" font-size="2.1" text-anchor="end" fill="#555" stroke="#555" stroke-width="0.095">CI: 0.560-0.710</text>
<rect x="84.70" y="276.40" width="42.50" height="43.90" fill="white" stroke="#9a9a9a" stroke-width="0.75"/>
<line x1="83.80" y1="318.80" x2="84.70" y2="318.80" stroke="#777" stroke-width="0.3"/>
<text x="83.50" y="319.55" font-size="2.3" text-anchor="end" fill="#555" stroke="#555" stroke-width="0.103">0.0</text>
<line x1="83.80" y1="310.64" x2="84.70" y2="310.64" stroke="#777" stroke-width="0.3"/>
<text x="83.50" y="311.39" font-size="2.3" text-anchor="end" fill="#555" stroke="#555" stroke-width="0.103">0.2</text>
<line x1="83.80" y1="302.48" x2="84.70" y2="302.48" stroke="#777" stroke-width="0.3"/>
<text x="83.50" y="303.23" font-size="2.3" text-anchor="end" fill="#555" stroke="#555" stroke-width="0.103">0.4</text>
<line x1="83.80" y1="294.32" x2="84.70" y2="294.32" stroke="#777" stroke-width="0.3"/>
<text x="83.50" y="295.07" font-size="2.3" text-anchor="end" fill="#555" stroke="#555" stroke-width="0.103">0.6</text>
<line x1="83.80" y1="286.16" x2="84.70" y2="286.16" stroke="#777" stroke-width="0.3"/>
<text x="83.50" y="286.91" font-size="2.3" text-anchor="end" fill="#555" stroke="#555" stroke-width="0.103">0.8</text>
<line x1="83.80" y1="278.00" x2="84.70" y2="278.00" stroke="#777" stroke-width="0.3"/>
<text x="83.50" y="278.75" font-size="2.3" text-anchor="end" fill="#555" stroke="#555" stroke-width="0.103">1.0</text>
<line x1="85.90" y1="320.30" x2="85.90" y2="321.20" stroke="#777" stroke-width="0.3"/>
<text x="85.90" y="323.70" font-size="2.3" text-anchor="middle" fill="#555" stroke="#555" stroke-width="0.103">0</text>
<line x1="96.87" y1="320.30" x2="96.87" y2="321.20" stroke="#777" stroke-width="0.3"/>
<text x="96.87" y="323.70" font-size="2.3" text-anchor="middle" fill="#555" stroke="#555" stroke-width="0.103">2000</text>
<line x1="107.84" y1="320.30" x2="107.84" y2="321.20" stroke="#777" stroke-width="0.3"/>
<text x="107.84" y="323.70" font-size="2.3" text-anchor="middle" fill="#555" stroke="#555" stroke-width="0.103">4000</text>
<line x1="118.82" y1="320.30" x2="118.82" y2="321.20" stroke="#777" stroke-width="0.3"/>
<text x="118.82" y="323.70" font-size="2.3" text-anchor="middle" fill="#555" stroke="#555" stroke-width="0.103">6000</text>
<text x="105.95" y="326.90" font-size="2.5999999999999996" text-anchor="middle" fill="#444" stroke="#444" stroke-width="0.117">Time</text>
<text x="78.40" y="298.35" font-size="2.5" text-anchor="middle" fill="#707070" transform="rotate(-90 78.4 298.34999999999997)" stroke="#707070" stroke-width="0.112">Survival probability</text>
<polyline points="106.30,308.00 110.00,309.00 112.40,311.70 125.00,311.70" fill="none" stroke="#e24656" stroke-width="0.7" stroke-linejoin="round"/>
<line x1="113.60" y1="311.00" x2="113.60" y2="312.40" stroke="#e24656" stroke-width="0.3"/>
<line x1="115.10" y1="311.00" x2="115.10" y2="312.40" stroke="#e24656" stroke-width="0.3"/>
<line x1="116.60" y1="311.00" x2="116.60" y2="312.40" stroke="#e24656" stroke-width="0.3"/>
<line x1="118.10" y1="311.00" x2="118.10" y2="312.40" stroke="#e24656" stroke-width="0.3"/>
<line x1="119.60" y1="311.00" x2="119.60" y2="312.40" stroke="#e24656" stroke-width="0.3"/>
<line x1="121.10" y1="311.00" x2="121.10" y2="312.40" stroke="#e24656" stroke-width="0.3"/>
<line x1="122.60" y1="311.00" x2="122.60" y2="312.40" stroke="#e24656" stroke-width="0.3"/>
<line x1="124.10" y1="311.00" x2="124.10" y2="312.40" stroke="#e24656" stroke-width="0.3"/>
<polyline points="106.30,308.00 125.70,308.00" fill="none" stroke="#6a80b8" stroke-width="0.7" stroke-linejoin="round"/>
<line x1="107.50" y1="307.30" x2="107.50" y2="308.70" stroke="#6a80b8" stroke-width="0.3"/>
<line x1="109.00" y1="307.30" x2="109.00" y2="308.70" stroke="#6a80b8" stroke-width="0.3"/>
<line x1="110.50" y1="307.30" x2="110.50" y2="308.70" stroke="#6a80b8" stroke-width="0.3"/>
<line x1="112.00" y1="307.30" x2="112.00" y2="308.70" stroke="#6a80b8" stroke-width="0.3"/>
<line x1="113.50" y1="307.30" x2="113.50" y2="308.70" stroke="#6a80b8" stroke-width="0.3"/>
<line x1="115.00" y1="307.30" x2="115.00" y2="308.70" stroke="#6a80b8" stroke-width="0.3"/>
<line x1="116.50" y1="307.30" x2="116.50" y2="308.70" stroke="#6a80b8" stroke-width="0.3"/>
<line x1="118.00" y1="307.30" x2="118.00" y2="308.70" stroke="#6a80b8" stroke-width="0.3"/>
<line x1="119.50" y1="307.30" x2="119.50" y2="308.70" stroke="#6a80b8" stroke-width="0.3"/>
<line x1="121.00" y1="307.30" x2="121.00" y2="308.70" stroke="#6a80b8" stroke-width="0.3"/>
<line x1="122.50" y1="307.30" x2="122.50" y2="308.70" stroke="#6a80b8" stroke-width="0.3"/>
<line x1="124.00" y1="307.30" x2="124.00" y2="308.70" stroke="#6a80b8" stroke-width="0.3"/>
<polyline points="91.70,292.20 94.20,298.30 97.80,303.20 102.70,306.20 106.30,308.00" fill="none" stroke="#3a2a3c" stroke-width="1.0" stroke-linejoin="round"/>
<polyline points="86.30,277.60 89.00,285.00 91.70,292.20" fill="none" stroke="#d4203c" stroke-width="1.45" stroke-linejoin="round"/>
<text x="124.40" y="288.00" font-size="4.7" text-anchor="end" fill="#1a1a1a" stroke="#1a1a1a" stroke-width="0.1">KPNA5</text>
<line x1="118.20" y1="278.40" x2="119.80" y2="278.40" stroke="#e24656" stroke-width="0.45"/>
<text x="120.40" y="279.00" font-size="1.7" text-anchor="start" fill="#777" stroke="#777" stroke-width="0.076">Low</text>
<line x1="122.60" y1="278.40" x2="123.80" y2="278.40" stroke="#e24656" stroke-width="0.45"/>
<text x="126.20" y="279.00" font-size="1.7" text-anchor="end" fill="#777" stroke="#777" stroke-width="0.076">x</text>
<line x1="118.20" y1="281.00" x2="119.80" y2="281.00" stroke="#6a80b8" stroke-width="0.45"/>
<text x="120.40" y="281.60" font-size="1.7" text-anchor="start" fill="#777" stroke="#777" stroke-width="0.076">High</text>
<line x1="122.60" y1="281.00" x2="123.80" y2="281.00" stroke="#6a80b8" stroke-width="0.45"/>
<text x="126.20" y="281.60" font-size="1.7" text-anchor="end" fill="#777" stroke="#777" stroke-width="0.076">x</text>
<text x="86.30" y="315.70" font-size="1.75" text-anchor="start" fill="#555" stroke="#555" stroke-width="0.079">HR = 1.35 (0.91-1.98)</text>
<text x="86.30" y="318.10" font-size="1.75" text-anchor="start" fill="#555" stroke="#555" stroke-width="0.079">P = 0.136</text>
<rect x="220.70" y="276.40" width="42.50" height="43.90" fill="white" stroke="#9a9a9a" stroke-width="0.75"/>
<line x1="219.80" y1="318.80" x2="220.70" y2="318.80" stroke="#777" stroke-width="0.3"/>
<text x="219.50" y="319.55" font-size="2.3" text-anchor="end" fill="#555" stroke="#555" stroke-width="0.103">0.0</text>
<line x1="219.80" y1="310.64" x2="220.70" y2="310.64" stroke="#777" stroke-width="0.3"/>
<text x="219.50" y="311.39" font-size="2.3" text-anchor="end" fill="#555" stroke="#555" stroke-width="0.103">0.2</text>
<line x1="219.80" y1="302.48" x2="220.70" y2="302.48" stroke="#777" stroke-width="0.3"/>
<text x="219.50" y="303.23" font-size="2.3" text-anchor="end" fill="#555" stroke="#555" stroke-width="0.103">0.4</text>
<line x1="219.80" y1="294.32" x2="220.70" y2="294.32" stroke="#777" stroke-width="0.3"/>
<text x="219.50" y="295.07" font-size="2.3" text-anchor="end" fill="#555" stroke="#555" stroke-width="0.103">0.6</text>
<line x1="219.80" y1="286.16" x2="220.70" y2="286.16" stroke="#777" stroke-width="0.3"/>
<text x="219.50" y="286.91" font-size="2.3" text-anchor="end" fill="#555" stroke="#555" stroke-width="0.103">0.8</text>
<line x1="219.80" y1="278.00" x2="220.70" y2="278.00" stroke="#777" stroke-width="0.3"/>
<text x="219.50" y="278.75" font-size="2.3" text-anchor="end" fill="#555" stroke="#555" stroke-width="0.103">1.0</text>
<line x1="221.90" y1="320.30" x2="221.90" y2="321.20" stroke="#777" stroke-width="0.3"/>
<text x="221.90" y="323.70" font-size="2.3" text-anchor="middle" fill="#555" stroke="#555" stroke-width="0.103">0</text>
<line x1="232.87" y1="320.30" x2="232.87" y2="321.20" stroke="#777" stroke-width="0.3"/>
<text x="232.87" y="323.70" font-size="2.3" text-anchor="middle" fill="#555" stroke="#555" stroke-width="0.103">2000</text>
<line x1="243.84" y1="320.30" x2="243.84" y2="321.20" stroke="#777" stroke-width="0.3"/>
<text x="243.84" y="323.70" font-size="2.3" text-anchor="middle" fill="#555" stroke="#555" stroke-width="0.103">4000</text>
<line x1="254.82" y1="320.30" x2="254.82" y2="321.20" stroke="#777" stroke-width="0.3"/>
<text x="254.82" y="323.70" font-size="2.3" text-anchor="middle" fill="#555" stroke="#555" stroke-width="0.103">6000</text>
<text x="241.95" y="326.90" font-size="2.5999999999999996" text-anchor="middle" fill="#444" stroke="#444" stroke-width="0.117">Time</text>
<text x="214.40" y="298.35" font-size="2.5" text-anchor="middle" fill="#707070" transform="rotate(-90 214.39999999999998 298.34999999999997)" stroke="#707070" stroke-width="0.112">Survival probability</text>
<polyline points="236.80,302.20 236.80,304.40 240.50,309.20 249.60,309.20 249.60,312.30 262.00,312.30" fill="none" stroke="#e24656" stroke-width="0.7" stroke-linejoin="round"/>
<line x1="241.70" y1="308.50" x2="241.70" y2="309.90" stroke="#e24656" stroke-width="0.3"/>
<line x1="243.20" y1="308.50" x2="243.20" y2="309.90" stroke="#e24656" stroke-width="0.3"/>
<line x1="244.70" y1="308.50" x2="244.70" y2="309.90" stroke="#e24656" stroke-width="0.3"/>
<line x1="246.20" y1="308.50" x2="246.20" y2="309.90" stroke="#e24656" stroke-width="0.3"/>
<line x1="247.70" y1="308.50" x2="247.70" y2="309.90" stroke="#e24656" stroke-width="0.3"/>
<line x1="250.80" y1="311.60" x2="250.80" y2="313.00" stroke="#e24656" stroke-width="0.3"/>
<line x1="252.30" y1="311.60" x2="252.30" y2="313.00" stroke="#e24656" stroke-width="0.3"/>
<line x1="253.80" y1="311.60" x2="253.80" y2="313.00" stroke="#e24656" stroke-width="0.3"/>
<line x1="255.30" y1="311.60" x2="255.30" y2="313.00" stroke="#e24656" stroke-width="0.3"/>
<line x1="256.80" y1="311.60" x2="256.80" y2="313.00" stroke="#e24656" stroke-width="0.3"/>
<line x1="258.30" y1="311.60" x2="258.30" y2="313.00" stroke="#e24656" stroke-width="0.3"/>
<line x1="259.80" y1="311.60" x2="259.80" y2="313.00" stroke="#e24656" stroke-width="0.3"/>
<line x1="261.30" y1="311.60" x2="261.30" y2="313.00" stroke="#e24656" stroke-width="0.3"/>
<polyline points="239.30,305.80 259.90,306.00" fill="none" stroke="#6a80b8" stroke-width="0.7" stroke-linejoin="round"/>
<line x1="240.50" y1="305.10" x2="240.50" y2="306.50" stroke="#6a80b8" stroke-width="0.3"/>
<line x1="242.00" y1="305.10" x2="242.00" y2="306.50" stroke="#6a80b8" stroke-width="0.3"/>
<line x1="243.50" y1="305.10" x2="243.50" y2="306.50" stroke="#6a80b8" stroke-width="0.3"/>
<line x1="245.00" y1="305.10" x2="245.00" y2="306.50" stroke="#6a80b8" stroke-width="0.3"/>
<line x1="246.50" y1="305.10" x2="246.50" y2="306.50" stroke="#6a80b8" stroke-width="0.3"/>
<line x1="248.00" y1="305.10" x2="248.00" y2="306.50" stroke="#6a80b8" stroke-width="0.3"/>
<line x1="249.50" y1="305.10" x2="249.50" y2="306.50" stroke="#6a80b8" stroke-width="0.3"/>
<line x1="251.00" y1="305.10" x2="251.00" y2="306.50" stroke="#6a80b8" stroke-width="0.3"/>
<line x1="252.50" y1="305.10" x2="252.50" y2="306.50" stroke="#6a80b8" stroke-width="0.3"/>
<line x1="254.00" y1="305.10" x2="254.00" y2="306.50" stroke="#6a80b8" stroke-width="0.3"/>
<line x1="255.50" y1="305.10" x2="255.50" y2="306.50" stroke="#6a80b8" stroke-width="0.3"/>
<line x1="257.00" y1="305.10" x2="257.00" y2="306.50" stroke="#6a80b8" stroke-width="0.3"/>
<line x1="258.50" y1="305.10" x2="258.50" y2="306.50" stroke="#6a80b8" stroke-width="0.3"/>
<polyline points="230.20,297.70 232.60,305.00 236.20,305.60 239.30,305.80" fill="none" stroke="#2c3458" stroke-width="0.9" stroke-linejoin="round"/>
<polyline points="230.20,297.70 233.20,300.70 236.80,302.20" fill="none" stroke="#c41e3c" stroke-width="0.9" stroke-linejoin="round"/>
<polyline points="222.90,277.60 226.50,288.00 230.20,297.70" fill="none" stroke="#b81e3c" stroke-width="1.35" stroke-linejoin="round"/>
<text x="260.40" y="288.00" font-size="4.7" text-anchor="end" fill="#1a1a1a" stroke="#1a1a1a" stroke-width="0.1">KPNA6</text>
<line x1="254.20" y1="278.40" x2="255.80" y2="278.40" stroke="#e24656" stroke-width="0.45"/>
<text x="256.40" y="279.00" font-size="1.7" text-anchor="start" fill="#777" stroke="#777" stroke-width="0.076">Low</text>
<line x1="258.60" y1="278.40" x2="259.80" y2="278.40" stroke="#e24656" stroke-width="0.45"/>
<text x="262.20" y="279.00" font-size="1.7" text-anchor="end" fill="#777" stroke="#777" stroke-width="0.076">x</text>
<line x1="254.20" y1="281.00" x2="255.80" y2="281.00" stroke="#6a80b8" stroke-width="0.45"/>
<text x="256.40" y="281.60" font-size="1.7" text-anchor="start" fill="#777" stroke="#777" stroke-width="0.076">High</text>
<line x1="258.60" y1="281.00" x2="259.80" y2="281.00" stroke="#6a80b8" stroke-width="0.45"/>
<text x="262.20" y="281.60" font-size="1.7" text-anchor="end" fill="#777" stroke="#777" stroke-width="0.076">x</text>
<text x="222.30" y="315.70" font-size="1.75" text-anchor="start" fill="#555" stroke="#555" stroke-width="0.079">HR = 1.35 (0.91-1.98)</text>
<text x="222.30" y="318.10" font-size="1.75" text-anchor="start" fill="#555" stroke="#555" stroke-width="0.079">P = 0.136</text>
<rect x="357.60" y="276.40" width="41.90" height="43.90" fill="white" stroke="#9a9a9a" stroke-width="0.75"/>
<line x1="356.70" y1="318.80" x2="357.60" y2="318.80" stroke="#777" stroke-width="0.3"/>
<text x="356.40" y="319.55" font-size="2.3" text-anchor="end" fill="#555" stroke="#555" stroke-width="0.103">0.0</text>
<line x1="356.70" y1="310.64" x2="357.60" y2="310.64" stroke="#777" stroke-width="0.3"/>
<text x="356.40" y="311.39" font-size="2.3" text-anchor="end" fill="#555" stroke="#555" stroke-width="0.103">0.2</text>
<line x1="356.70" y1="302.48" x2="357.60" y2="302.48" stroke="#777" stroke-width="0.3"/>
<text x="356.40" y="303.23" font-size="2.3" text-anchor="end" fill="#555" stroke="#555" stroke-width="0.103">0.4</text>
<line x1="356.70" y1="294.32" x2="357.60" y2="294.32" stroke="#777" stroke-width="0.3"/>
<text x="356.40" y="295.07" font-size="2.3" text-anchor="end" fill="#555" stroke="#555" stroke-width="0.103">0.6</text>
<line x1="356.70" y1="286.16" x2="357.60" y2="286.16" stroke="#777" stroke-width="0.3"/>
<text x="356.40" y="286.91" font-size="2.3" text-anchor="end" fill="#555" stroke="#555" stroke-width="0.103">0.8</text>
<line x1="356.70" y1="278.00" x2="357.60" y2="278.00" stroke="#777" stroke-width="0.3"/>
<text x="356.40" y="278.75" font-size="2.3" text-anchor="end" fill="#555" stroke="#555" stroke-width="0.103">1.0</text>
<line x1="358.80" y1="320.30" x2="358.80" y2="321.20" stroke="#777" stroke-width="0.3"/>
<text x="358.80" y="323.70" font-size="2.3" text-anchor="middle" fill="#555" stroke="#555" stroke-width="0.103">0</text>
<line x1="369.61" y1="320.30" x2="369.61" y2="321.20" stroke="#777" stroke-width="0.3"/>
<text x="369.61" y="323.70" font-size="2.3" text-anchor="middle" fill="#555" stroke="#555" stroke-width="0.103">2000</text>
<line x1="380.41" y1="320.30" x2="380.41" y2="321.20" stroke="#777" stroke-width="0.3"/>
<text x="380.41" y="323.70" font-size="2.3" text-anchor="middle" fill="#555" stroke="#555" stroke-width="0.103">4000</text>
<line x1="391.22" y1="320.30" x2="391.22" y2="321.20" stroke="#777" stroke-width="0.3"/>
<text x="391.22" y="323.70" font-size="2.3" text-anchor="middle" fill="#555" stroke="#555" stroke-width="0.103">6000</text>
<text x="378.55" y="326.90" font-size="2.5999999999999996" text-anchor="middle" fill="#444" stroke="#444" stroke-width="0.117">Time</text>
<text x="351.30" y="298.35" font-size="2.5" text-anchor="middle" fill="#707070" transform="rotate(-90 351.3 298.34999999999997)" stroke="#707070" stroke-width="0.112">Survival probability</text>
<polyline points="373.40,309.20 385.60,309.20 385.60,312.30 399.50,312.30" fill="none" stroke="#e24656" stroke-width="0.7" stroke-linejoin="round"/>
<line x1="374.60" y1="308.50" x2="374.60" y2="309.90" stroke="#e24656" stroke-width="0.3"/>
<line x1="376.10" y1="308.50" x2="376.10" y2="309.90" stroke="#e24656" stroke-width="0.3"/>
<line x1="377.60" y1="308.50" x2="377.60" y2="309.90" stroke="#e24656" stroke-width="0.3"/>
<line x1="379.10" y1="308.50" x2="379.10" y2="309.90" stroke="#e24656" stroke-width="0.3"/>
<line x1="380.60" y1="308.50" x2="380.60" y2="309.90" stroke="#e24656" stroke-width="0.3"/>
<line x1="382.10" y1="308.50" x2="382.10" y2="309.90" stroke="#e24656" stroke-width="0.3"/>
<line x1="383.60" y1="308.50" x2="383.60" y2="309.90" stroke="#e24656" stroke-width="0.3"/>
<line x1="385.10" y1="308.50" x2="385.10" y2="309.90" stroke="#e24656" stroke-width="0.3"/>
<line x1="386.80" y1="311.60" x2="386.80" y2="313.00" stroke="#e24656" stroke-width="0.3"/>
<line x1="388.30" y1="311.60" x2="388.30" y2="313.00" stroke="#e24656" stroke-width="0.3"/>
<line x1="389.80" y1="311.60" x2="389.80" y2="313.00" stroke="#e24656" stroke-width="0.3"/>
<line x1="391.30" y1="311.60" x2="391.30" y2="313.00" stroke="#e24656" stroke-width="0.3"/>
<line x1="392.80" y1="311.60" x2="392.80" y2="313.00" stroke="#e24656" stroke-width="0.3"/>
<line x1="394.30" y1="311.60" x2="394.30" y2="313.00" stroke="#e24656" stroke-width="0.3"/>
<line x1="395.80" y1="311.60" x2="395.80" y2="313.00" stroke="#e24656" stroke-width="0.3"/>
<line x1="397.30" y1="311.60" x2="397.30" y2="313.00" stroke="#e24656" stroke-width="0.3"/>
<line x1="398.80" y1="311.60" x2="398.80" y2="313.00" stroke="#e24656" stroke-width="0.3"/>
<polyline points="377.10,306.20 395.30,306.20" fill="none" stroke="#6a80b8" stroke-width="0.7" stroke-linejoin="round"/>
<line x1="378.30" y1="305.50" x2="378.30" y2="306.90" stroke="#6a80b8" stroke-width="0.3"/>
<line x1="379.80" y1="305.50" x2="379.80" y2="306.90" stroke="#6a80b8" stroke-width="0.3"/>
<line x1="381.30" y1="305.50" x2="381.30" y2="306.90" stroke="#6a80b8" stroke-width="0.3"/>
<line x1="382.80" y1="305.50" x2="382.80" y2="306.90" stroke="#6a80b8" stroke-width="0.3"/>
<line x1="384.30" y1="305.50" x2="384.30" y2="306.90" stroke="#6a80b8" stroke-width="0.3"/>
<line x1="385.80" y1="305.50" x2="385.80" y2="306.90" stroke="#6a80b8" stroke-width="0.3"/>
<line x1="387.30" y1="305.50" x2="387.30" y2="306.90" stroke="#6a80b8" stroke-width="0.3"/>
<line x1="388.80" y1="305.50" x2="388.80" y2="306.90" stroke="#6a80b8" stroke-width="0.3"/>
<line x1="390.30" y1="305.50" x2="390.30" y2="306.90" stroke="#6a80b8" stroke-width="0.3"/>
<line x1="391.80" y1="305.50" x2="391.80" y2="306.90" stroke="#6a80b8" stroke-width="0.3"/>
<line x1="393.30" y1="305.50" x2="393.30" y2="306.90" stroke="#6a80b8" stroke-width="0.3"/>
<polyline points="367.40,299.50 368.60,299.80 374.00,301.30 375.90,303.20 377.10,306.20" fill="none" stroke="#2c3458" stroke-width="0.9" stroke-linejoin="round"/>
<polyline points="367.40,299.50 368.60,303.80 371.60,305.30 373.40,309.20" fill="none" stroke="#c41e3c" stroke-width="0.9" stroke-linejoin="round"/>
<polyline points="358.90,277.60 363.00,288.00 367.40,299.50" fill="none" stroke="#c81e3a" stroke-width="1.45" stroke-linejoin="round"/>
<text x="396.70" y="288.00" font-size="4.7" text-anchor="end" fill="#1a1a1a" stroke="#1a1a1a" stroke-width="0.1">KPNA7</text>
<line x1="390.50" y1="278.40" x2="392.10" y2="278.40" stroke="#e24656" stroke-width="0.45"/>
<text x="392.70" y="279.00" font-size="1.7" text-anchor="start" fill="#777" stroke="#777" stroke-width="0.076">Low</text>
<line x1="394.90" y1="278.40" x2="396.10" y2="278.40" stroke="#e24656" stroke-width="0.45"/>
<text x="398.50" y="279.00" font-size="1.7" text-anchor="end" fill="#777" stroke="#777" stroke-width="0.076">x</text>
<line x1="390.50" y1="281.00" x2="392.10" y2="281.00" stroke="#6a80b8" stroke-width="0.45"/>
<text x="392.70" y="281.60" font-size="1.7" text-anchor="start" fill="#777" stroke="#777" stroke-width="0.076">High</text>
<line x1="394.90" y1="281.00" x2="396.10" y2="281.00" stroke="#6a80b8" stroke-width="0.45"/>
<text x="398.50" y="281.60" font-size="1.7" text-anchor="end" fill="#777" stroke="#777" stroke-width="0.076">x</text>
<text x="359.20" y="315.70" font-size="1.75" text-anchor="start" fill="#555" stroke="#555" stroke-width="0.079">HR = 1.35 (0.91-1.98)</text>
<text x="359.20" y="318.10" font-size="1.75" text-anchor="start" fill="#555" stroke="#555" stroke-width="0.079">P = 0.136</text>
</svg>
</body></html>
